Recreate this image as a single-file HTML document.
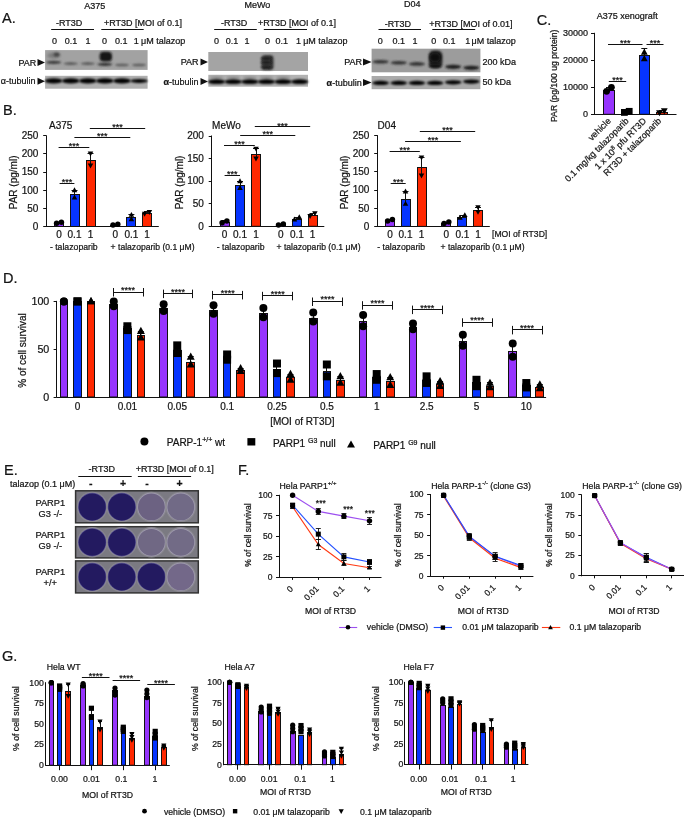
<!DOCTYPE html>
<html><head><meta charset="utf-8"><style>
html,body{margin:0;padding:0;background:#fff;}
svg{display:block;will-change:transform;}
text{font-family:"Liberation Sans",sans-serif;fill:#141414;stroke:#141414;stroke-width:0.22px;}
</style></head><body>
<svg width="685" height="817" viewBox="0 0 685 817">
<defs>
<filter id="b1" x="-50%" y="-100%" width="200%" height="300%"><feGaussianBlur stdDeviation="0.9"/></filter>
<filter id="b2" x="-50%" y="-50%" width="200%" height="200%"><feGaussianBlur stdDeviation="1.6"/></filter>
</defs>
<rect width="685" height="817" fill="#fff"/>
<text x="2" y="22.8" font-size="14.5">A.</text>
<text x="84.2" y="8.7" font-size="9">A375</text>
<text x="56" y="26" font-size="9">-RT3D</text>
<line x1="51.2" y1="29.5" x2="94" y2="29.5" stroke="#111" stroke-width="1"/>
<text x="104" y="26" font-size="9">+RT3D [MOI of 0.1]</text>
<line x1="101.3" y1="29.5" x2="143.7" y2="29.5" stroke="#111" stroke-width="1"/>
<text x="52" y="44" font-size="9">0</text>
<text x="64.8" y="44" font-size="9">0.1</text>
<text x="85.4" y="44" font-size="9">1</text>
<text x="102" y="44" font-size="9">0</text>
<text x="115" y="44" font-size="9">0.1</text>
<text x="133.8" y="44" font-size="9">1</text>
<text x="141" y="44" font-size="9">&#956;M talazop</text>
<text x="36.3" y="65.8" font-size="9" text-anchor="end">PAR</text>
<path d="M37.5 58.9L45 62.4L37.5 65.9Z" fill="#111"/>
<text x="35.5" y="84.4" font-size="9" text-anchor="end">&#945;-tubulin</text>
<path d="M37.5 77.7L45 81.2L37.5 84.7Z" fill="#111"/>
<rect x="45.1" y="50.1" width="102.5" height="19.8" fill="#a2a2a2"/>
<ellipse cx="53.64" cy="62.4" rx="7.5" ry="1.6" fill="#3a3a3a" filter="url(#b1)"/>
<ellipse cx="53.64" cy="55.5" rx="6.5" ry="3" fill="#7a7a7a" filter="url(#b2)"/>
<ellipse cx="56.64" cy="54.5" rx="3" ry="2" fill="#444" filter="url(#b1)"/>
<ellipse cx="70.72" cy="63.6" rx="7.2" ry="1.3" fill="#555" filter="url(#b1)"/>
<ellipse cx="87.81" cy="63.6" rx="7.2" ry="1.3" fill="#555" filter="url(#b1)"/>
<rect x="99.6" y="51.8" width="12.4" height="9.6" rx="4" fill="#151515" filter="url(#b1)"/>
<ellipse cx="104.89" cy="64.3" rx="7.5" ry="1.6" fill="#333" filter="url(#b1)"/>
<ellipse cx="121.97" cy="65" rx="7" ry="1.3" fill="#5a5a5a" filter="url(#b1)"/>
<ellipse cx="139.06" cy="65" rx="7" ry="1.3" fill="#5a5a5a" filter="url(#b1)"/>
<rect x="45.1" y="75.8" width="102.5" height="12.9" fill="#b0b0b0"/>
<ellipse cx="53.64" cy="80.9" rx="8.7" ry="2.7" fill="#050505" filter="url(#b1)"/>
<ellipse cx="70.72" cy="80.9" rx="8.7" ry="2.7" fill="#050505" filter="url(#b1)"/>
<ellipse cx="87.81" cy="80.9" rx="8.7" ry="2.7" fill="#050505" filter="url(#b1)"/>
<ellipse cx="104.89" cy="80.9" rx="8.7" ry="2.7" fill="#050505" filter="url(#b1)"/>
<ellipse cx="121.97" cy="80.9" rx="8.7" ry="2.7" fill="#050505" filter="url(#b1)"/>
<ellipse cx="139.06" cy="80.9" rx="8.7" ry="2.0" fill="#050505" filter="url(#b1)"/>
<text x="244.4" y="8.2" font-size="9">MeWo</text>
<text x="220.9" y="26" font-size="9">-RT3D</text>
<line x1="214.2" y1="29.5" x2="256.8" y2="29.5" stroke="#111" stroke-width="1"/>
<text x="258" y="26" font-size="9">+RT3D [MOI of 0.1]</text>
<line x1="263.8" y1="29.5" x2="307" y2="29.5" stroke="#111" stroke-width="1"/>
<text x="214" y="44" font-size="9">0</text>
<text x="225.8" y="44" font-size="9">0.1</text>
<text x="244.4" y="44" font-size="9">1</text>
<text x="265" y="44" font-size="9">0</text>
<text x="275.5" y="44" font-size="9">0.1</text>
<text x="296" y="44" font-size="9">1</text>
<text x="303.2" y="44" font-size="9">&#956;M talazop</text>
<text x="198.6" y="65.2" font-size="9" text-anchor="end">PAR</text>
<path d="M200.5 58.4L208 61.9L200.5 65.4Z" fill="#111"/>
<text x="198.6" y="84.6" font-size="9" text-anchor="end"><tspan font-weight="bold">&#945;</tspan>-tubulin</text>
<path d="M200.5 78L208 81.5L200.5 85Z" fill="#111"/>
<rect x="208.3" y="52" width="99.7" height="19" fill="#a4a4a4"/>
<rect x="261.6" y="55" width="12" height="15" rx="3.5" fill="#3a3a3a" filter="url(#b1)"/>
<ellipse cx="266.46" cy="58.5" rx="5.8" ry="1.5" fill="#1c1c1c" filter="url(#b1)"/>
<ellipse cx="266.46" cy="62.5" rx="5.8" ry="1.5" fill="#1c1c1c" filter="url(#b1)"/>
<ellipse cx="266.46" cy="67.3" rx="5.8" ry="1.5" fill="#1c1c1c" filter="url(#b1)"/>
<rect x="208.3" y="74.8" width="99.7" height="11.9" fill="#b2b2b2"/>
<ellipse cx="216.61" cy="77.4" rx="7" ry="1" fill="#808080" filter="url(#b1)"/>
<ellipse cx="216.61" cy="81.7" rx="8.6" ry="2.4" fill="#060606" filter="url(#b1)"/>
<ellipse cx="233.23" cy="77.4" rx="7" ry="1" fill="#808080" filter="url(#b1)"/>
<ellipse cx="233.23" cy="81.7" rx="8.6" ry="2.4" fill="#060606" filter="url(#b1)"/>
<ellipse cx="249.84" cy="77.4" rx="7" ry="1" fill="#808080" filter="url(#b1)"/>
<ellipse cx="249.84" cy="81.7" rx="8.6" ry="2.4" fill="#060606" filter="url(#b1)"/>
<ellipse cx="266.46" cy="77.4" rx="7" ry="1" fill="#808080" filter="url(#b1)"/>
<ellipse cx="266.46" cy="81.7" rx="8.6" ry="2.4" fill="#060606" filter="url(#b1)"/>
<ellipse cx="283.07" cy="77.4" rx="7" ry="1" fill="#808080" filter="url(#b1)"/>
<ellipse cx="283.07" cy="81.7" rx="8.6" ry="2.4" fill="#060606" filter="url(#b1)"/>
<ellipse cx="299.69" cy="81.7" rx="8.6" ry="2.4" fill="#060606" filter="url(#b1)"/>
<text x="404" y="7" font-size="9">D04</text>
<text x="384.7" y="27.3" font-size="9">-RT3D</text>
<line x1="378.5" y1="29.5" x2="421" y2="29.5" stroke="#111" stroke-width="1"/>
<text x="429.3" y="27.3" font-size="9">+RT3D [MOI of 0.01]</text>
<line x1="432.3" y1="29.5" x2="475.2" y2="29.5" stroke="#111" stroke-width="1"/>
<text x="377.7" y="44" font-size="9">0</text>
<text x="392.6" y="44" font-size="9">0.1</text>
<text x="412.5" y="44" font-size="9">1</text>
<text x="431.3" y="44" font-size="9">0</text>
<text x="443" y="44" font-size="9">0.1</text>
<text x="465.3" y="44" font-size="9">1</text>
<text x="471.5" y="44" font-size="9">&#956;M talazop</text>
<text x="362" y="65.2" font-size="9" text-anchor="end">PAR</text>
<path d="M363 58.4L371.6 61.9L363 65.4Z" fill="#111"/>
<text x="361.7" y="85.6" font-size="9" text-anchor="end"><tspan font-weight="bold">&#945;</tspan>-tubulin</text>
<path d="M363 79L371.6 82.5L363 86Z" fill="#111"/>
<rect x="371.6" y="48.7" width="108.8" height="23.6" fill="#9c9c9c"/>
<ellipse cx="380.67" cy="61.8" rx="8" ry="1.8" fill="#303030" filter="url(#b1)"/>
<ellipse cx="398.8" cy="62.8" rx="8" ry="1.8" fill="#303030" filter="url(#b1)"/>
<ellipse cx="416.93" cy="63.9" rx="8" ry="1.8" fill="#303030" filter="url(#b1)"/>
<rect x="428.8" y="50.6" width="13.6" height="17.4" rx="5" fill="#242424" filter="url(#b1)"/>
<ellipse cx="435.07" cy="57.5" rx="5.5" ry="4.5" fill="#0e0e0e" filter="url(#b2)"/>
<ellipse cx="435.07" cy="66" rx="6.5" ry="1.8" fill="#161616" filter="url(#b1)"/>
<ellipse cx="453.2" cy="66.8" rx="8" ry="2.1" fill="#1e1e1e" filter="url(#b1)"/>
<ellipse cx="471.33" cy="67.8" rx="8" ry="2.1" fill="#1e1e1e" filter="url(#b1)"/>
<rect x="371.6" y="76" width="108.8" height="13.2" fill="#aaaaaa"/>
<ellipse cx="380.67" cy="82.9" rx="8.4" ry="2.1" fill="#050505" filter="url(#b1)"/>
<ellipse cx="398.8" cy="82.9" rx="8.4" ry="2.1" fill="#050505" filter="url(#b1)"/>
<ellipse cx="416.93" cy="82.9" rx="8.4" ry="2.1" fill="#050505" filter="url(#b1)"/>
<ellipse cx="435.07" cy="82.9" rx="8.4" ry="2.1" fill="#050505" filter="url(#b1)"/>
<ellipse cx="453.2" cy="82.3" rx="8.4" ry="2.1" fill="#050505" filter="url(#b1)"/>
<ellipse cx="471.33" cy="81.6" rx="8.4" ry="2.1" fill="#050505" filter="url(#b1)"/>
<text x="482.6" y="65.2" font-size="9">200 kDa</text>
<text x="482.6" y="84.9" font-size="9">50 kDa</text>
<text x="3" y="115" font-size="14.5">B.</text>
<text x="49" y="128.8" font-size="10">A375</text>
<line x1="46.5" y1="135.3" x2="46.5" y2="227" stroke="#111" stroke-width="1"/>
<line x1="43.2" y1="226.5" x2="46.2" y2="226.5" stroke="#111" stroke-width="1"/>
<text x="38.4" y="229.8" font-size="10" text-anchor="end">0</text>
<line x1="43.2" y1="208.5" x2="46.2" y2="208.5" stroke="#111" stroke-width="1"/>
<text x="38.4" y="211.66" font-size="10" text-anchor="end">50</text>
<line x1="43.2" y1="190.5" x2="46.2" y2="190.5" stroke="#111" stroke-width="1"/>
<text x="38.4" y="193.52" font-size="10" text-anchor="end">100</text>
<line x1="43.2" y1="172.5" x2="46.2" y2="172.5" stroke="#111" stroke-width="1"/>
<text x="38.4" y="175.38" font-size="10" text-anchor="end">150</text>
<line x1="43.2" y1="153.5" x2="46.2" y2="153.5" stroke="#111" stroke-width="1"/>
<text x="38.4" y="157.24" font-size="10" text-anchor="end">200</text>
<line x1="43.2" y1="135.5" x2="46.2" y2="135.5" stroke="#111" stroke-width="1"/>
<text x="38.4" y="139.1" font-size="10" text-anchor="end">250</text>
<line x1="46.2" y1="226.5" x2="158.8" y2="226.5" stroke="#111" stroke-width="1"/>
<rect x="54.5" y="223.5" width="9" height="3" fill="#9634fd" stroke="#111" stroke-width="1"/>
<rect x="70.5" y="194.5" width="9" height="32" fill="#0634ff" stroke="#111" stroke-width="1"/>
<rect x="86.5" y="160.5" width="9" height="66" fill="#ff2800" stroke="#111" stroke-width="1"/>
<rect x="110.5" y="225.5" width="9" height="1" fill="#9634fd" stroke="#111" stroke-width="1"/>
<rect x="126.5" y="217.5" width="9" height="9" fill="#0634ff" stroke="#111" stroke-width="1"/>
<rect x="142.5" y="213.5" width="9" height="13" fill="#ff2800" stroke="#111" stroke-width="1"/>
<line x1="59.5" y1="222.15" x2="59.5" y2="223.23" stroke="#111" stroke-width="1"/>
<line x1="56" y1="222.5" x2="62" y2="222.5" stroke="#111" stroke-width="1"/>
<circle cx="56.6" cy="223.23" r="2.75" fill="#000"/>
<circle cx="61.4" cy="222.15" r="2.75" fill="#000"/>
<line x1="74.5" y1="190.22" x2="74.5" y2="197.48" stroke="#111" stroke-width="1"/>
<line x1="71.5" y1="190.5" x2="77.5" y2="190.5" stroke="#111" stroke-width="1"/>
<path d="M74.5 194.51L77.25 199.46L71.75 199.46Z" fill="#000"/>
<path d="M74.5 187.25L77.25 192.2L71.75 192.2Z" fill="#000"/>
<line x1="90.5" y1="153.58" x2="90.5" y2="165.55" stroke="#111" stroke-width="1"/>
<line x1="87.5" y1="153.5" x2="93.5" y2="153.5" stroke="#111" stroke-width="1"/>
<path d="M90.5 168.52L93.25 163.57L87.75 163.57Z" fill="#000"/>
<path d="M90.5 156.55L93.25 151.6L87.75 151.6Z" fill="#000"/>
<line x1="115.5" y1="224.32" x2="115.5" y2="225.05" stroke="#111" stroke-width="1"/>
<line x1="112.4" y1="224.5" x2="118.4" y2="224.5" stroke="#111" stroke-width="1"/>
<circle cx="113" cy="225.05" r="2.75" fill="#000"/>
<circle cx="117.8" cy="224.32" r="2.75" fill="#000"/>
<line x1="131.5" y1="214.89" x2="131.5" y2="219.24" stroke="#111" stroke-width="1"/>
<line x1="128.4" y1="214.5" x2="134.4" y2="214.5" stroke="#111" stroke-width="1"/>
<path d="M131.4 216.27L134.15 221.22L128.65 221.22Z" fill="#000"/>
<path d="M131.4 211.92L134.15 216.87L128.65 216.87Z" fill="#000"/>
<line x1="147.5" y1="211.99" x2="147.5" y2="213.8" stroke="#111" stroke-width="1"/>
<line x1="144" y1="211.5" x2="150" y2="211.5" stroke="#111" stroke-width="1"/>
<path d="M144.6 216.77L147.35 211.82L141.85 211.82Z" fill="#000"/>
<path d="M149.4 214.96L152.15 210.01L146.65 210.01Z" fill="#000"/>
<text x="59" y="237.5" font-size="10" text-anchor="middle">0</text>
<text x="74.5" y="237.5" font-size="10" text-anchor="middle">0.1</text>
<text x="90.5" y="237.5" font-size="10" text-anchor="middle">1</text>
<text x="115.4" y="237.5" font-size="10" text-anchor="middle">0</text>
<text x="131.4" y="237.5" font-size="10" text-anchor="middle">0.1</text>
<text x="147" y="237.5" font-size="10" text-anchor="middle">1</text>
<text x="73.8" y="249.6" font-size="8.7" text-anchor="middle">- talazoparib</text>
<text x="110.6" y="249.6" font-size="8.6">+ talazoparib (0.1 &#956;M)</text>
<line x1="58.6" y1="147.5" x2="89.3" y2="147.5" stroke="#111" stroke-width="1"/>
<text x="73.95" y="148.7" font-size="9" text-anchor="middle">***</text>
<line x1="74.4" y1="137.5" x2="130.3" y2="137.5" stroke="#111" stroke-width="1"/>
<text x="102.35" y="139.3" font-size="9" text-anchor="middle">***</text>
<line x1="89.8" y1="128.5" x2="145.2" y2="128.5" stroke="#111" stroke-width="1"/>
<text x="117.5" y="130.1" font-size="9" text-anchor="middle">***</text>
<line x1="59.6" y1="183.5" x2="74.4" y2="183.5" stroke="#111" stroke-width="1"/>
<text x="67" y="185.2" font-size="9" text-anchor="middle">***</text>
<text x="17.3" y="182.4" font-size="10" text-anchor="middle" transform="rotate(-90 17.3 182.4)">PAR (pg/ml)</text>
<text x="212.1" y="128.8" font-size="10">MeWo</text>
<line x1="211.5" y1="135.5" x2="211.5" y2="226.8" stroke="#111" stroke-width="1"/>
<line x1="208.7" y1="226.5" x2="211.7" y2="226.5" stroke="#111" stroke-width="1"/>
<text x="203.9" y="229.6" font-size="10" text-anchor="end">0</text>
<line x1="208.7" y1="203.5" x2="211.7" y2="203.5" stroke="#111" stroke-width="1"/>
<text x="203.9" y="207.03" font-size="10" text-anchor="end">50</text>
<line x1="208.7" y1="181.5" x2="211.7" y2="181.5" stroke="#111" stroke-width="1"/>
<text x="203.9" y="184.45" font-size="10" text-anchor="end">100</text>
<line x1="208.7" y1="158.5" x2="211.7" y2="158.5" stroke="#111" stroke-width="1"/>
<text x="203.9" y="161.88" font-size="10" text-anchor="end">150</text>
<line x1="208.7" y1="136.5" x2="211.7" y2="136.5" stroke="#111" stroke-width="1"/>
<text x="203.9" y="139.3" font-size="10" text-anchor="end">200</text>
<line x1="211.7" y1="226.5" x2="324.3" y2="226.5" stroke="#111" stroke-width="1"/>
<rect x="220.5" y="222.5" width="9" height="3.8" fill="#9634fd" stroke="#111" stroke-width="1"/>
<rect x="235.5" y="185.5" width="9" height="40.8" fill="#0634ff" stroke="#111" stroke-width="1"/>
<rect x="251.5" y="154.5" width="9" height="71.8" fill="#ff2800" stroke="#111" stroke-width="1"/>
<rect x="276.5" y="224.5" width="9" height="1.8" fill="#9634fd" stroke="#111" stroke-width="1"/>
<rect x="292.5" y="219.5" width="9" height="6.8" fill="#0634ff" stroke="#111" stroke-width="1"/>
<rect x="308.5" y="215.5" width="9" height="10.8" fill="#ff2800" stroke="#111" stroke-width="1"/>
<line x1="224.5" y1="220.88" x2="224.5" y2="222.69" stroke="#111" stroke-width="1"/>
<line x1="221.5" y1="220.5" x2="227.5" y2="220.5" stroke="#111" stroke-width="1"/>
<circle cx="222.1" cy="222.69" r="2.75" fill="#000"/>
<circle cx="226.9" cy="220.88" r="2.75" fill="#000"/>
<line x1="240.5" y1="181.15" x2="240.5" y2="187.92" stroke="#111" stroke-width="1"/>
<line x1="237" y1="181.5" x2="243" y2="181.5" stroke="#111" stroke-width="1"/>
<path d="M240 184.95L242.75 189.9L237.25 189.9Z" fill="#000"/>
<path d="M240 178.18L242.75 183.13L237.25 183.13Z" fill="#000"/>
<line x1="256.5" y1="148.64" x2="256.5" y2="158.57" stroke="#111" stroke-width="1"/>
<line x1="253" y1="148.5" x2="259" y2="148.5" stroke="#111" stroke-width="1"/>
<path d="M256 161.54L258.75 156.59L253.25 156.59Z" fill="#000"/>
<path d="M256 151.61L258.75 146.66L253.25 146.66Z" fill="#000"/>
<line x1="280.5" y1="224.04" x2="280.5" y2="224.95" stroke="#111" stroke-width="1"/>
<line x1="277.9" y1="224.5" x2="283.9" y2="224.5" stroke="#111" stroke-width="1"/>
<circle cx="278.5" cy="224.95" r="2.75" fill="#000"/>
<circle cx="283.3" cy="224.04" r="2.75" fill="#000"/>
<line x1="296.5" y1="217.27" x2="296.5" y2="219.53" stroke="#111" stroke-width="1"/>
<line x1="293.9" y1="217.5" x2="299.9" y2="217.5" stroke="#111" stroke-width="1"/>
<path d="M294.5 216.56L297.25 221.51L291.75 221.51Z" fill="#000"/>
<path d="M299.3 214.3L302.05 219.25L296.55 219.25Z" fill="#000"/>
<line x1="312.5" y1="213.21" x2="312.5" y2="215.92" stroke="#111" stroke-width="1"/>
<line x1="309.5" y1="213.5" x2="315.5" y2="213.5" stroke="#111" stroke-width="1"/>
<path d="M310.1 218.89L312.85 213.94L307.35 213.94Z" fill="#000"/>
<path d="M314.9 216.18L317.65 211.23L312.15 211.23Z" fill="#000"/>
<text x="224.5" y="237.5" font-size="10" text-anchor="middle">0</text>
<text x="240" y="237.5" font-size="10" text-anchor="middle">0.1</text>
<text x="256" y="237.5" font-size="10" text-anchor="middle">1</text>
<text x="280.9" y="237.5" font-size="10" text-anchor="middle">0</text>
<text x="296.9" y="237.5" font-size="10" text-anchor="middle">0.1</text>
<text x="312.5" y="237.5" font-size="10" text-anchor="middle">1</text>
<text x="240.6" y="249.6" font-size="8.7" text-anchor="middle">- talazoparib</text>
<text x="276.49" y="249.6" font-size="8.6">+ talazoparib (0.1 &#956;M)</text>
<line x1="224" y1="145.5" x2="254.8" y2="145.5" stroke="#111" stroke-width="1"/>
<text x="239.4" y="146.8" font-size="9" text-anchor="middle">***</text>
<line x1="240.2" y1="135.5" x2="295.3" y2="135.5" stroke="#111" stroke-width="1"/>
<text x="267.75" y="137.2" font-size="9" text-anchor="middle">***</text>
<line x1="254.8" y1="126.5" x2="310.2" y2="126.5" stroke="#111" stroke-width="1"/>
<text x="282.5" y="128.5" font-size="9" text-anchor="middle">***</text>
<line x1="224.6" y1="175.5" x2="240" y2="175.5" stroke="#111" stroke-width="1"/>
<text x="232.3" y="176.6" font-size="9" text-anchor="middle">***</text>
<text x="182.8" y="182.4" font-size="10" text-anchor="middle" transform="rotate(-90 182.8 182.4)">PAR (pg/ml)</text>
<text x="377.6" y="128.8" font-size="10">D04</text>
<line x1="377.5" y1="135.1" x2="377.5" y2="226.9" stroke="#111" stroke-width="1"/>
<line x1="374.2" y1="226.5" x2="377.2" y2="226.5" stroke="#111" stroke-width="1"/>
<text x="369.4" y="229.7" font-size="10" text-anchor="end">0</text>
<line x1="374.2" y1="208.5" x2="377.2" y2="208.5" stroke="#111" stroke-width="1"/>
<text x="369.4" y="211.54" font-size="10" text-anchor="end">50</text>
<line x1="374.2" y1="190.5" x2="377.2" y2="190.5" stroke="#111" stroke-width="1"/>
<text x="369.4" y="193.38" font-size="10" text-anchor="end">100</text>
<line x1="374.2" y1="171.5" x2="377.2" y2="171.5" stroke="#111" stroke-width="1"/>
<text x="369.4" y="175.22" font-size="10" text-anchor="end">150</text>
<line x1="374.2" y1="153.5" x2="377.2" y2="153.5" stroke="#111" stroke-width="1"/>
<text x="369.4" y="157.06" font-size="10" text-anchor="end">200</text>
<line x1="374.2" y1="135.5" x2="377.2" y2="135.5" stroke="#111" stroke-width="1"/>
<text x="369.4" y="138.9" font-size="10" text-anchor="end">250</text>
<line x1="377.2" y1="226.5" x2="489.8" y2="226.5" stroke="#111" stroke-width="1"/>
<rect x="385.5" y="220.5" width="9" height="5.9" fill="#9634fd" stroke="#111" stroke-width="1"/>
<rect x="401.5" y="199.5" width="9" height="26.9" fill="#0634ff" stroke="#111" stroke-width="1"/>
<rect x="417.5" y="167.5" width="9" height="58.9" fill="#ff2800" stroke="#111" stroke-width="1"/>
<rect x="441.5" y="223.5" width="9" height="2.9" fill="#9634fd" stroke="#111" stroke-width="1"/>
<rect x="457.5" y="217.5" width="9" height="8.9" fill="#0634ff" stroke="#111" stroke-width="1"/>
<rect x="473.5" y="210.5" width="9" height="15.9" fill="#ff2800" stroke="#111" stroke-width="1"/>
<line x1="390.5" y1="219.5" x2="390.5" y2="220.95" stroke="#111" stroke-width="1"/>
<line x1="387" y1="219.5" x2="393" y2="219.5" stroke="#111" stroke-width="1"/>
<circle cx="387.6" cy="220.95" r="2.75" fill="#000"/>
<circle cx="392.4" cy="219.5" r="2.75" fill="#000"/>
<line x1="405.5" y1="191.53" x2="405.5" y2="203.88" stroke="#111" stroke-width="1"/>
<line x1="402.5" y1="191.5" x2="408.5" y2="191.5" stroke="#111" stroke-width="1"/>
<path d="M405.5 200.91L408.25 205.86L402.75 205.86Z" fill="#000"/>
<path d="M405.5 188.56L408.25 193.51L402.75 193.51Z" fill="#000"/>
<line x1="421.5" y1="157.39" x2="421.5" y2="175.55" stroke="#111" stroke-width="1"/>
<line x1="418.5" y1="157.5" x2="424.5" y2="157.5" stroke="#111" stroke-width="1"/>
<path d="M421.5 178.52L424.25 173.57L418.75 173.57Z" fill="#000"/>
<path d="M421.5 160.36L424.25 155.41L418.75 155.41Z" fill="#000"/>
<line x1="446.5" y1="222.04" x2="446.5" y2="223.49" stroke="#111" stroke-width="1"/>
<line x1="443.4" y1="222.5" x2="449.4" y2="222.5" stroke="#111" stroke-width="1"/>
<circle cx="444" cy="223.49" r="2.75" fill="#000"/>
<circle cx="448.8" cy="222.04" r="2.75" fill="#000"/>
<line x1="462.5" y1="215.14" x2="462.5" y2="217.68" stroke="#111" stroke-width="1"/>
<line x1="459.4" y1="215.5" x2="465.4" y2="215.5" stroke="#111" stroke-width="1"/>
<path d="M460 214.71L462.75 219.66L457.25 219.66Z" fill="#000"/>
<path d="M464.8 212.17L467.55 217.12L462.05 217.12Z" fill="#000"/>
<line x1="478.5" y1="207.15" x2="478.5" y2="211.87" stroke="#111" stroke-width="1"/>
<line x1="475" y1="207.5" x2="481" y2="207.5" stroke="#111" stroke-width="1"/>
<path d="M478 214.84L480.75 209.89L475.25 209.89Z" fill="#000"/>
<path d="M478 210.12L480.75 205.17L475.25 205.17Z" fill="#000"/>
<text x="390" y="237.5" font-size="10" text-anchor="middle">0</text>
<text x="405.5" y="237.5" font-size="10" text-anchor="middle">0.1</text>
<text x="421.5" y="237.5" font-size="10" text-anchor="middle">1</text>
<text x="446.4" y="237.5" font-size="10" text-anchor="middle">0</text>
<text x="462.4" y="237.5" font-size="10" text-anchor="middle">0.1</text>
<text x="478" y="237.5" font-size="10" text-anchor="middle">1</text>
<text x="401.2" y="249.6" font-size="8.7" text-anchor="middle">- talazoparib</text>
<text x="440.52" y="249.6" font-size="8.6">+ talazoparib (0.1 &#956;M)</text>
<line x1="389.6" y1="151.5" x2="419.8" y2="151.5" stroke="#111" stroke-width="1"/>
<text x="404.7" y="152.8" font-size="9" text-anchor="middle">***</text>
<line x1="405.1" y1="141.5" x2="460.9" y2="141.5" stroke="#111" stroke-width="1"/>
<text x="433" y="142.8" font-size="9" text-anchor="middle">***</text>
<line x1="419.8" y1="131.5" x2="475.2" y2="131.5" stroke="#111" stroke-width="1"/>
<text x="447.5" y="133.4" font-size="9" text-anchor="middle">***</text>
<line x1="390.7" y1="183.5" x2="405.7" y2="183.5" stroke="#111" stroke-width="1"/>
<text x="398.2" y="185" font-size="9" text-anchor="middle">***</text>
<text x="348.3" y="182.4" font-size="10" text-anchor="middle" transform="rotate(-90 348.3 182.4)">PAR (pg/ml)</text>
<text x="492" y="236.8" font-size="8.6">[MOI of RT3D]</text>
<text x="536.8" y="25" font-size="14.5">C.</text>
<text x="596.8" y="19.2" font-size="9">A375 xenograft</text>
<line x1="594.5" y1="32.8" x2="594.5" y2="114.8" stroke="#111" stroke-width="1"/>
<line x1="591" y1="114.5" x2="594" y2="114.5" stroke="#111" stroke-width="1"/>
<text x="588" y="117.27" font-size="9" text-anchor="end">0</text>
<line x1="591" y1="87.5" x2="594" y2="87.5" stroke="#111" stroke-width="1"/>
<text x="588" y="90.27" font-size="9" text-anchor="end">10000</text>
<line x1="591" y1="60.5" x2="594" y2="60.5" stroke="#111" stroke-width="1"/>
<text x="588" y="63.27" font-size="9" text-anchor="end">20000</text>
<line x1="591" y1="33.5" x2="594" y2="33.5" stroke="#111" stroke-width="1"/>
<text x="588" y="36.27" font-size="9" text-anchor="end">30000</text>
<line x1="594" y1="114.5" x2="676.5" y2="114.5" stroke="#111" stroke-width="1"/>
<rect x="603.5" y="90.5" width="11" height="23.8" fill="#9634fd" stroke="#111" stroke-width="1"/>
<rect x="621.5" y="112.5" width="10" height="1.8" fill="#111" stroke="#111" stroke-width="1"/>
<rect x="639.5" y="55.5" width="10" height="58.8" fill="#0634ff" stroke="#111" stroke-width="1"/>
<rect x="656.5" y="112.5" width="11" height="1.8" fill="#ff2800" stroke="#111" stroke-width="1"/>
<line x1="609.5" y1="87.3" x2="609.5" y2="91.35" stroke="#111" stroke-width="1"/>
<line x1="606" y1="87.5" x2="612" y2="87.5" stroke="#111" stroke-width="1"/>
<circle cx="606.6" cy="91.35" r="3.4" fill="#000"/>
<circle cx="611.4" cy="87.3" r="3.4" fill="#000"/>
<line x1="626.5" y1="111.33" x2="626.5" y2="112.41" stroke="#111" stroke-width="1"/>
<line x1="623.8" y1="111.5" x2="629.8" y2="111.5" stroke="#111" stroke-width="1"/>
<rect x="621" y="109.01" width="6.8" height="6.8" fill="#000"/>
<rect x="625.8" y="107.93" width="6.8" height="6.8" fill="#000"/>
<line x1="644.5" y1="48.96" x2="644.5" y2="60.3" stroke="#111" stroke-width="1"/>
<line x1="641.3" y1="48.5" x2="647.3" y2="48.5" stroke="#111" stroke-width="1"/>
<path d="M644.3 48.53L647.7 54.65L640.9 54.65Z" fill="#000"/>
<path d="M644.3 55.01L647.7 61.13L640.9 61.13Z" fill="#000"/>
<line x1="661.5" y1="110.79" x2="661.5" y2="112.68" stroke="#111" stroke-width="1"/>
<line x1="658.9" y1="110.5" x2="664.9" y2="110.5" stroke="#111" stroke-width="1"/>
<path d="M659.5 116.35L662.9 110.23L656.1 110.23Z" fill="#000"/>
<path d="M664.3 114.46L667.7 108.34L660.9 108.34Z" fill="#000"/>
<line x1="608.8" y1="81.5" x2="626.2" y2="81.5" stroke="#111" stroke-width="1"/>
<text x="617.5" y="82.8" font-size="9" text-anchor="middle">***</text>
<line x1="608" y1="44.5" x2="642.5" y2="44.5" stroke="#111" stroke-width="1"/>
<text x="625.25" y="45.7" font-size="9" text-anchor="middle">***</text>
<line x1="646.5" y1="44.5" x2="663.5" y2="44.5" stroke="#111" stroke-width="1"/>
<text x="655" y="45.7" font-size="9" text-anchor="middle">***</text>
<text x="611.5" y="121.5" font-size="9" text-anchor="end" transform="rotate(-45 611.5 121.5)">vehicle</text>
<text x="629.3" y="121.5" font-size="9" text-anchor="end" transform="rotate(-45 629.3 121.5)">0.1 mg/kg talazoparib</text>
<text x="646.8" y="121.5" font-size="9" text-anchor="end" transform="rotate(-45 646.8 121.5)">1 x 10<tspan font-size="6" dy="-3.5">8</tspan><tspan dy="3.5"> pfu RT3D</tspan></text>
<text x="661.9" y="121.5" font-size="9" text-anchor="end" transform="rotate(-45 661.9 121.5)">RT3D + talazoparib</text>
<text x="557" y="75.8" font-size="8.65" text-anchor="middle" transform="rotate(-90 557 75.8)">PAR (pg/100 ug protein)</text>
<text x="3" y="283" font-size="14.5">D.</text>
<line x1="56.5" y1="300.9" x2="56.5" y2="397.5" stroke="#111" stroke-width="1"/>
<line x1="53.6" y1="397.5" x2="56.6" y2="397.5" stroke="#111" stroke-width="1"/>
<text x="49.3" y="400.53" font-size="10.7" text-anchor="end">0</text>
<line x1="53.6" y1="349.5" x2="56.6" y2="349.5" stroke="#111" stroke-width="1"/>
<text x="49.3" y="352.73" font-size="10.7" text-anchor="end">50</text>
<line x1="53.6" y1="301.5" x2="56.6" y2="301.5" stroke="#111" stroke-width="1"/>
<text x="49.3" y="304.93" font-size="10.7" text-anchor="end">100</text>
<line x1="56.6" y1="397.5" x2="546.1" y2="397.5" stroke="#111" stroke-width="1"/>
<text x="77.5" y="410" font-size="10" text-anchor="middle">0</text>
<text x="127.37" y="410" font-size="10" text-anchor="middle">0.01</text>
<line x1="113.17" y1="292.5" x2="143.07" y2="292.5" stroke="#111" stroke-width="1"/>
<line x1="113.5" y1="288" x2="113.5" y2="296.5" stroke="#111" stroke-width="1"/>
<line x1="143.5" y1="288" x2="143.5" y2="296.5" stroke="#111" stroke-width="1"/>
<text x="128.12" y="292.9" font-size="9" text-anchor="middle">****</text>
<text x="177.24" y="410" font-size="10" text-anchor="middle">0.05</text>
<line x1="163.04" y1="293.5" x2="192.94" y2="293.5" stroke="#111" stroke-width="1"/>
<line x1="163.5" y1="289.6" x2="163.5" y2="298.1" stroke="#111" stroke-width="1"/>
<line x1="192.5" y1="289.6" x2="192.5" y2="298.1" stroke="#111" stroke-width="1"/>
<text x="177.99" y="294.5" font-size="9" text-anchor="middle">****</text>
<text x="227.11" y="410" font-size="10" text-anchor="middle">0.1</text>
<line x1="212.91" y1="294.5" x2="242.81" y2="294.5" stroke="#111" stroke-width="1"/>
<line x1="212.5" y1="290.9" x2="212.5" y2="299.4" stroke="#111" stroke-width="1"/>
<line x1="242.5" y1="290.9" x2="242.5" y2="299.4" stroke="#111" stroke-width="1"/>
<text x="227.86" y="295.8" font-size="9" text-anchor="middle">****</text>
<text x="276.98" y="410" font-size="10" text-anchor="middle">0.25</text>
<line x1="262.78" y1="295.5" x2="292.68" y2="295.5" stroke="#111" stroke-width="1"/>
<line x1="262.5" y1="291.8" x2="262.5" y2="300.3" stroke="#111" stroke-width="1"/>
<line x1="292.5" y1="291.8" x2="292.5" y2="300.3" stroke="#111" stroke-width="1"/>
<text x="277.73" y="296.7" font-size="9" text-anchor="middle">****</text>
<text x="326.85" y="410" font-size="10" text-anchor="middle">0.5</text>
<line x1="312.65" y1="301.5" x2="342.55" y2="301.5" stroke="#111" stroke-width="1"/>
<line x1="312.5" y1="297.5" x2="312.5" y2="306" stroke="#111" stroke-width="1"/>
<line x1="342.5" y1="297.5" x2="342.5" y2="306" stroke="#111" stroke-width="1"/>
<text x="327.6" y="302.4" font-size="9" text-anchor="middle">****</text>
<text x="376.72" y="410" font-size="10" text-anchor="middle">1</text>
<line x1="362.52" y1="305.5" x2="392.42" y2="305.5" stroke="#111" stroke-width="1"/>
<line x1="362.5" y1="301.2" x2="362.5" y2="309.7" stroke="#111" stroke-width="1"/>
<line x1="392.5" y1="301.2" x2="392.5" y2="309.7" stroke="#111" stroke-width="1"/>
<text x="377.47" y="306.1" font-size="9" text-anchor="middle">****</text>
<text x="426.59" y="410" font-size="10" text-anchor="middle">2.5</text>
<line x1="412.39" y1="309.5" x2="442.29" y2="309.5" stroke="#111" stroke-width="1"/>
<line x1="412.5" y1="305.6" x2="412.5" y2="314.1" stroke="#111" stroke-width="1"/>
<line x1="442.5" y1="305.6" x2="442.5" y2="314.1" stroke="#111" stroke-width="1"/>
<text x="427.34" y="310.5" font-size="9" text-anchor="middle">****</text>
<text x="476.46" y="410" font-size="10" text-anchor="middle">5</text>
<line x1="462.26" y1="322.5" x2="492.16" y2="322.5" stroke="#111" stroke-width="1"/>
<line x1="462.5" y1="318.3" x2="462.5" y2="326.8" stroke="#111" stroke-width="1"/>
<line x1="492.5" y1="318.3" x2="492.5" y2="326.8" stroke="#111" stroke-width="1"/>
<text x="477.21" y="323.2" font-size="9" text-anchor="middle">****</text>
<text x="526.33" y="410" font-size="10" text-anchor="middle">10</text>
<line x1="512.13" y1="329.5" x2="542.03" y2="329.5" stroke="#111" stroke-width="1"/>
<line x1="512.5" y1="325.9" x2="512.5" y2="334.4" stroke="#111" stroke-width="1"/>
<line x1="542.5" y1="325.9" x2="542.5" y2="334.4" stroke="#111" stroke-width="1"/>
<text x="527.08" y="330.8" font-size="9" text-anchor="middle">****</text>
<rect x="60.5" y="301.5" width="7" height="95.5" fill="#9634fd" stroke="#111" stroke-width="1"/>
<rect x="73.5" y="301.5" width="8" height="95.5" fill="#0634ff" stroke="#111" stroke-width="1"/>
<rect x="87.5" y="301.5" width="7" height="95.5" fill="#ff2800" stroke="#111" stroke-width="1"/>
<rect x="109.5" y="304.5" width="8" height="92.5" fill="#9634fd" stroke="#111" stroke-width="1"/>
<rect x="123.5" y="328.5" width="8" height="68.5" fill="#0634ff" stroke="#111" stroke-width="1"/>
<rect x="137.5" y="335.5" width="7" height="61.5" fill="#ff2800" stroke="#111" stroke-width="1"/>
<rect x="159.5" y="308.5" width="8" height="88.5" fill="#9634fd" stroke="#111" stroke-width="1"/>
<rect x="173.5" y="350.5" width="8" height="46.5" fill="#0634ff" stroke="#111" stroke-width="1"/>
<rect x="186.5" y="362.5" width="8" height="34.5" fill="#ff2800" stroke="#111" stroke-width="1"/>
<rect x="209.5" y="310.5" width="8" height="86.5" fill="#9634fd" stroke="#111" stroke-width="1"/>
<rect x="223.5" y="357.5" width="7" height="39.5" fill="#0634ff" stroke="#111" stroke-width="1"/>
<rect x="236.5" y="370.5" width="8" height="26.5" fill="#ff2800" stroke="#111" stroke-width="1"/>
<rect x="259.5" y="313.5" width="8" height="83.5" fill="#9634fd" stroke="#111" stroke-width="1"/>
<rect x="273.5" y="369.5" width="7" height="27.5" fill="#0634ff" stroke="#111" stroke-width="1"/>
<rect x="286.5" y="377.5" width="8" height="19.5" fill="#ff2800" stroke="#111" stroke-width="1"/>
<rect x="309.5" y="318.5" width="8" height="78.5" fill="#9634fd" stroke="#111" stroke-width="1"/>
<rect x="323.5" y="371.5" width="7" height="25.5" fill="#0634ff" stroke="#111" stroke-width="1"/>
<rect x="336.5" y="380.5" width="8" height="16.5" fill="#ff2800" stroke="#111" stroke-width="1"/>
<rect x="359.5" y="321.5" width="7" height="75.5" fill="#9634fd" stroke="#111" stroke-width="1"/>
<rect x="372.5" y="377.5" width="8" height="19.5" fill="#0634ff" stroke="#111" stroke-width="1"/>
<rect x="386.5" y="381.5" width="8" height="15.5" fill="#ff2800" stroke="#111" stroke-width="1"/>
<rect x="409.5" y="327.5" width="7" height="69.5" fill="#9634fd" stroke="#111" stroke-width="1"/>
<rect x="422.5" y="380.5" width="8" height="16.5" fill="#0634ff" stroke="#111" stroke-width="1"/>
<rect x="436.5" y="384.5" width="7" height="12.5" fill="#ff2800" stroke="#111" stroke-width="1"/>
<rect x="459.5" y="341.5" width="7" height="55.5" fill="#9634fd" stroke="#111" stroke-width="1"/>
<rect x="472.5" y="382.5" width="8" height="14.5" fill="#0634ff" stroke="#111" stroke-width="1"/>
<rect x="486.5" y="386.5" width="7" height="10.5" fill="#ff2800" stroke="#111" stroke-width="1"/>
<rect x="508.5" y="351.5" width="8" height="45.5" fill="#9634fd" stroke="#111" stroke-width="1"/>
<rect x="522.5" y="385.5" width="8" height="11.5" fill="#0634ff" stroke="#111" stroke-width="1"/>
<rect x="535.5" y="387.5" width="8" height="9.5" fill="#ff2800" stroke="#111" stroke-width="1"/>
<circle cx="63.9" cy="301.4" r="4" fill="#000"/>
<circle cx="63.9" cy="301.4" r="4" fill="#000"/>
<rect x="73.5" y="297.4" width="8" height="8" fill="#000"/>
<rect x="73.5" y="297.4" width="8" height="8" fill="#000"/>
<path d="M91 297.08L95 304.28L87 304.28Z" fill="#000"/>
<path d="M91 297.08L95 304.28L87 304.28Z" fill="#000"/>
<line x1="113.5" y1="301.4" x2="113.5" y2="306.18" stroke="#111" stroke-width="1"/>
<line x1="110.77" y1="301.5" x2="116.77" y2="301.5" stroke="#111" stroke-width="1"/>
<circle cx="113.77" cy="301.4" r="4" fill="#000"/>
<circle cx="113.77" cy="306.18" r="4" fill="#000"/>
<line x1="127.5" y1="326.26" x2="127.5" y2="330.08" stroke="#111" stroke-width="1"/>
<line x1="124.37" y1="326.5" x2="130.37" y2="326.5" stroke="#111" stroke-width="1"/>
<rect x="123.37" y="322.26" width="8" height="8" fill="#000"/>
<rect x="123.37" y="326.08" width="8" height="8" fill="#000"/>
<line x1="140.5" y1="331.04" x2="140.5" y2="337.73" stroke="#111" stroke-width="1"/>
<line x1="137.87" y1="331.5" x2="143.87" y2="331.5" stroke="#111" stroke-width="1"/>
<path d="M140.87 326.72L144.87 333.92L136.87 333.92Z" fill="#000"/>
<path d="M140.87 333.41L144.87 340.61L136.87 340.61Z" fill="#000"/>
<line x1="163.5" y1="304.27" x2="163.5" y2="310.96" stroke="#111" stroke-width="1"/>
<line x1="160.64" y1="304.5" x2="166.64" y2="304.5" stroke="#111" stroke-width="1"/>
<circle cx="163.64" cy="304.27" r="4" fill="#000"/>
<circle cx="163.64" cy="310.96" r="4" fill="#000"/>
<line x1="177.5" y1="345.38" x2="177.5" y2="353.02" stroke="#111" stroke-width="1"/>
<line x1="174.24" y1="345.5" x2="180.24" y2="345.5" stroke="#111" stroke-width="1"/>
<rect x="173.24" y="341.38" width="8" height="8" fill="#000"/>
<rect x="173.24" y="349.02" width="8" height="8" fill="#000"/>
<line x1="190.5" y1="356.85" x2="190.5" y2="364.5" stroke="#111" stroke-width="1"/>
<line x1="187.74" y1="356.5" x2="193.74" y2="356.5" stroke="#111" stroke-width="1"/>
<path d="M190.74 352.53L194.74 359.73L186.74 359.73Z" fill="#000"/>
<path d="M190.74 360.18L194.74 367.38L186.74 367.38Z" fill="#000"/>
<line x1="213.5" y1="305.22" x2="213.5" y2="313.83" stroke="#111" stroke-width="1"/>
<line x1="210.51" y1="305.5" x2="216.51" y2="305.5" stroke="#111" stroke-width="1"/>
<circle cx="213.51" cy="305.22" r="4" fill="#000"/>
<circle cx="213.51" cy="313.83" r="4" fill="#000"/>
<line x1="227.5" y1="354.46" x2="227.5" y2="359.72" stroke="#111" stroke-width="1"/>
<line x1="224.11" y1="354.5" x2="230.11" y2="354.5" stroke="#111" stroke-width="1"/>
<rect x="223.11" y="350.46" width="8" height="8" fill="#000"/>
<rect x="223.11" y="355.72" width="8" height="8" fill="#000"/>
<line x1="240.5" y1="368.32" x2="240.5" y2="371.19" stroke="#111" stroke-width="1"/>
<line x1="237.61" y1="368.5" x2="243.61" y2="368.5" stroke="#111" stroke-width="1"/>
<path d="M240.61 364L244.61 371.2L236.61 371.2Z" fill="#000"/>
<path d="M240.61 366.87L244.61 374.07L236.61 374.07Z" fill="#000"/>
<line x1="263.5" y1="308.09" x2="263.5" y2="317.17" stroke="#111" stroke-width="1"/>
<line x1="260.38" y1="308.5" x2="266.38" y2="308.5" stroke="#111" stroke-width="1"/>
<circle cx="263.38" cy="308.09" r="4" fill="#000"/>
<circle cx="263.38" cy="317.17" r="4" fill="#000"/>
<line x1="276.5" y1="363.54" x2="276.5" y2="373.1" stroke="#111" stroke-width="1"/>
<line x1="273.98" y1="363.5" x2="279.98" y2="363.5" stroke="#111" stroke-width="1"/>
<rect x="272.98" y="359.54" width="8" height="8" fill="#000"/>
<rect x="272.98" y="369.1" width="8" height="8" fill="#000"/>
<line x1="290.5" y1="374.06" x2="290.5" y2="379.79" stroke="#111" stroke-width="1"/>
<line x1="287.48" y1="374.5" x2="293.48" y2="374.5" stroke="#111" stroke-width="1"/>
<path d="M290.48 369.74L294.48 376.94L286.48 376.94Z" fill="#000"/>
<path d="M290.48 375.47L294.48 382.67L286.48 382.67Z" fill="#000"/>
<line x1="313.5" y1="312.39" x2="313.5" y2="321.48" stroke="#111" stroke-width="1"/>
<line x1="310.25" y1="312.5" x2="316.25" y2="312.5" stroke="#111" stroke-width="1"/>
<circle cx="313.25" cy="312.39" r="4" fill="#000"/>
<circle cx="313.25" cy="321.48" r="4" fill="#000"/>
<line x1="326.5" y1="364.5" x2="326.5" y2="376.35" stroke="#111" stroke-width="1"/>
<line x1="323.85" y1="364.5" x2="329.85" y2="364.5" stroke="#111" stroke-width="1"/>
<rect x="322.85" y="360.5" width="8" height="8" fill="#000"/>
<rect x="322.85" y="372.35" width="8" height="8" fill="#000"/>
<line x1="340.5" y1="376.35" x2="340.5" y2="382.95" stroke="#111" stroke-width="1"/>
<line x1="337.35" y1="376.5" x2="343.35" y2="376.5" stroke="#111" stroke-width="1"/>
<path d="M340.35 372.03L344.35 379.23L336.35 379.23Z" fill="#000"/>
<path d="M340.35 378.63L344.35 385.83L336.35 385.83Z" fill="#000"/>
<line x1="363.5" y1="314.98" x2="363.5" y2="326.26" stroke="#111" stroke-width="1"/>
<line x1="360.12" y1="314.5" x2="366.12" y2="314.5" stroke="#111" stroke-width="1"/>
<circle cx="363.12" cy="314.98" r="4" fill="#000"/>
<circle cx="363.12" cy="326.26" r="4" fill="#000"/>
<line x1="376.5" y1="374.06" x2="376.5" y2="379.79" stroke="#111" stroke-width="1"/>
<line x1="373.72" y1="374.5" x2="379.72" y2="374.5" stroke="#111" stroke-width="1"/>
<rect x="372.72" y="370.06" width="8" height="8" fill="#000"/>
<rect x="372.72" y="375.79" width="8" height="8" fill="#000"/>
<line x1="390.5" y1="377.4" x2="390.5" y2="385.05" stroke="#111" stroke-width="1"/>
<line x1="387.22" y1="377.5" x2="393.22" y2="377.5" stroke="#111" stroke-width="1"/>
<path d="M390.22 373.08L394.22 380.28L386.22 380.28Z" fill="#000"/>
<path d="M390.22 380.73L394.22 387.93L386.22 387.93Z" fill="#000"/>
<line x1="412.5" y1="323.39" x2="412.5" y2="329.32" stroke="#111" stroke-width="1"/>
<line x1="409.99" y1="323.5" x2="415.99" y2="323.5" stroke="#111" stroke-width="1"/>
<circle cx="412.99" cy="323.39" r="4" fill="#000"/>
<circle cx="412.99" cy="329.32" r="4" fill="#000"/>
<line x1="426.5" y1="376.35" x2="426.5" y2="382.95" stroke="#111" stroke-width="1"/>
<line x1="423.59" y1="376.5" x2="429.59" y2="376.5" stroke="#111" stroke-width="1"/>
<rect x="422.59" y="372.35" width="8" height="8" fill="#000"/>
<rect x="422.59" y="378.95" width="8" height="8" fill="#000"/>
<line x1="440.5" y1="381.23" x2="440.5" y2="386.2" stroke="#111" stroke-width="1"/>
<line x1="437.09" y1="381.5" x2="443.09" y2="381.5" stroke="#111" stroke-width="1"/>
<path d="M440.09 376.91L444.09 384.11L436.09 384.11Z" fill="#000"/>
<path d="M440.09 381.88L444.09 389.08L436.09 389.08Z" fill="#000"/>
<line x1="462.5" y1="334.86" x2="462.5" y2="345.66" stroke="#111" stroke-width="1"/>
<line x1="459.86" y1="334.5" x2="465.86" y2="334.5" stroke="#111" stroke-width="1"/>
<circle cx="462.86" cy="334.86" r="4" fill="#000"/>
<circle cx="462.86" cy="345.66" r="4" fill="#000"/>
<line x1="476.5" y1="379.79" x2="476.5" y2="386.2" stroke="#111" stroke-width="1"/>
<line x1="473.46" y1="379.5" x2="479.46" y2="379.5" stroke="#111" stroke-width="1"/>
<rect x="472.46" y="375.79" width="8" height="8" fill="#000"/>
<rect x="472.46" y="382.2" width="8" height="8" fill="#000"/>
<line x1="489.5" y1="382.95" x2="489.5" y2="387.44" stroke="#111" stroke-width="1"/>
<line x1="486.96" y1="382.5" x2="492.96" y2="382.5" stroke="#111" stroke-width="1"/>
<path d="M489.96 378.63L493.96 385.83L485.96 385.83Z" fill="#000"/>
<path d="M489.96 383.12L493.96 390.32L485.96 390.32Z" fill="#000"/>
<line x1="512.5" y1="343.46" x2="512.5" y2="356.85" stroke="#111" stroke-width="1"/>
<line x1="509.73" y1="343.5" x2="515.73" y2="343.5" stroke="#111" stroke-width="1"/>
<circle cx="512.73" cy="343.46" r="4" fill="#000"/>
<circle cx="512.73" cy="356.85" r="4" fill="#000"/>
<line x1="526.5" y1="383.04" x2="526.5" y2="387.44" stroke="#111" stroke-width="1"/>
<line x1="523.33" y1="383.5" x2="529.33" y2="383.5" stroke="#111" stroke-width="1"/>
<rect x="522.33" y="379.04" width="8" height="8" fill="#000"/>
<rect x="522.33" y="383.44" width="8" height="8" fill="#000"/>
<line x1="539.5" y1="384.57" x2="539.5" y2="388.4" stroke="#111" stroke-width="1"/>
<line x1="536.83" y1="384.5" x2="542.83" y2="384.5" stroke="#111" stroke-width="1"/>
<path d="M539.83 380.25L543.83 387.45L535.83 387.45Z" fill="#000"/>
<path d="M539.83 384.08L543.83 391.28L535.83 391.28Z" fill="#000"/>
<text x="270.2" y="424.5" font-size="10">[MOI of RT3D]</text>
<text x="25.6" y="350.5" font-size="10" text-anchor="middle" transform="rotate(-90 25.6 350.5)">% of cell survival</text>
<circle cx="144.4" cy="441.5" r="4" fill="#000"/>
<text x="166.8" y="446" font-size="10">PARP-1<tspan font-size="7" dy="-4">+/+</tspan><tspan dy="4"> wt</tspan></text>
<rect x="247.4" y="438.1" width="7.9" height="7.4" fill="#000"/>
<text x="273.1" y="447.3" font-size="10">PARP1 <tspan font-size="7" dy="-4.5">G3</tspan><tspan dy="4.5"> null</tspan></text>
<path d="M351 440.6L355 447.4L347 447.4Z" fill="#000"/>
<text x="373.3" y="449" font-size="10">PARP1 <tspan font-size="7" dy="-4.5">G9</tspan><tspan dy="4.5"> null</tspan></text>
<text x="4" y="475.2" font-size="14.5">E.</text>
<text x="88.6" y="472.1" font-size="9">-RT3D</text>
<line x1="78.3" y1="476.5" x2="131.7" y2="476.5" stroke="#111" stroke-width="1"/>
<text x="135.7" y="472.1" font-size="9">+RT3D [MOI of 0.1]</text>
<line x1="137.9" y1="476.5" x2="191.1" y2="476.5" stroke="#111" stroke-width="1"/>
<text x="75.2" y="486.8" font-size="9" text-anchor="end">talazop (0.1 &#956;M)</text>
<text x="90.8" y="487" font-size="10.5" text-anchor="middle" font-weight="bold">-</text>
<text x="123" y="487" font-size="10.5" text-anchor="middle" font-weight="bold">+</text>
<text x="147.1" y="487" font-size="10.5" text-anchor="middle" font-weight="bold">-</text>
<text x="179.5" y="487" font-size="10.5" text-anchor="middle" font-weight="bold">+</text>
<rect x="75.6" y="490.8" width="122.7" height="32" fill="#7b7a82" stroke="#333" stroke-width="1.5"/>
<circle cx="92.2" cy="506.9" r="15.2" fill="#8a8890"/>
<circle cx="92.2" cy="506.9" r="14.1" fill="#5a5494"/>
<circle cx="92.2" cy="506.9" r="13.5" fill="#231a60"/>
<circle cx="121.8" cy="506.9" r="15.2" fill="#8a8890"/>
<circle cx="121.8" cy="506.9" r="14.1" fill="#5a5494"/>
<circle cx="121.8" cy="506.9" r="13.5" fill="#231a60"/>
<circle cx="151.4" cy="506.9" r="15.2" fill="#8a8890"/>
<circle cx="151.4" cy="506.9" r="14.1" fill="#a09cb0"/>
<circle cx="151.4" cy="506.9" r="13.4" fill="#6c6282"/>
<circle cx="180.8" cy="506.9" r="15.2" fill="#8a8890"/>
<circle cx="180.8" cy="506.9" r="14.1" fill="#a09cb0"/>
<circle cx="180.8" cy="506.9" r="13.4" fill="#716a86"/>
<rect x="75.6" y="526.7" width="122.7" height="31.2" fill="#7b7a82" stroke="#333" stroke-width="1.5"/>
<circle cx="92.2" cy="542.3" r="15.2" fill="#8a8890"/>
<circle cx="92.2" cy="542.3" r="14.1" fill="#5a5494"/>
<circle cx="92.2" cy="542.3" r="13.5" fill="#231a60"/>
<circle cx="121.8" cy="542.3" r="15.2" fill="#8a8890"/>
<circle cx="121.8" cy="542.3" r="14.1" fill="#5a5494"/>
<circle cx="121.8" cy="542.3" r="13.5" fill="#231a60"/>
<circle cx="151.4" cy="542.3" r="15.2" fill="#8a8890"/>
<circle cx="151.4" cy="542.3" r="14.1" fill="#a09cb0"/>
<circle cx="151.4" cy="542.3" r="13.4" fill="#706884"/>
<circle cx="180.8" cy="542.3" r="15.2" fill="#8a8890"/>
<circle cx="180.8" cy="542.3" r="14.1" fill="#a09cb0"/>
<circle cx="180.8" cy="542.3" r="13.4" fill="#726b86"/>
<rect x="75.6" y="560.9" width="122.7" height="32" fill="#7b7a82" stroke="#333" stroke-width="1.5"/>
<circle cx="92.2" cy="576.9" r="15.2" fill="#8a8890"/>
<circle cx="92.2" cy="576.9" r="14.1" fill="#5a5494"/>
<circle cx="92.2" cy="576.9" r="13.5" fill="#231a60"/>
<circle cx="121.8" cy="576.9" r="15.2" fill="#8a8890"/>
<circle cx="121.8" cy="576.9" r="14.1" fill="#5a5494"/>
<circle cx="121.8" cy="576.9" r="13.5" fill="#231a60"/>
<circle cx="151.4" cy="576.9" r="15.2" fill="#8a8890"/>
<circle cx="151.4" cy="576.9" r="14.1" fill="#5a5494"/>
<circle cx="151.4" cy="576.9" r="13.5" fill="#231a60"/>
<circle cx="180.8" cy="576.9" r="15.2" fill="#8a8890"/>
<circle cx="180.8" cy="576.9" r="14.1" fill="#a09cb0"/>
<circle cx="180.8" cy="576.9" r="13.4" fill="#736889"/>
<text x="50.3" y="505.6" font-size="9.3" text-anchor="middle">PARP1</text>
<text x="50.3" y="516.8" font-size="9.3" text-anchor="middle">G3 -/-</text>
<text x="50.3" y="538.2" font-size="9.3" text-anchor="middle">PARP1</text>
<text x="50.3" y="549.1" font-size="9.3" text-anchor="middle">G9 -/-</text>
<text x="50.3" y="575.2" font-size="9.3" text-anchor="middle">PARP1</text>
<text x="50.3" y="585.6" font-size="9.3" text-anchor="middle">+/+</text>
<text x="237.9" y="475.2" font-size="14.5">F.</text>
<line x1="279.5" y1="494.8" x2="279.5" y2="577.9" stroke="#111" stroke-width="1"/>
<line x1="276" y1="577.5" x2="279" y2="577.5" stroke="#111" stroke-width="1"/>
<text x="272.5" y="580.2" font-size="8.5" text-anchor="end">0</text>
<line x1="276" y1="556.5" x2="279" y2="556.5" stroke="#111" stroke-width="1"/>
<text x="272.5" y="559.68" font-size="8.5" text-anchor="end">25</text>
<line x1="276" y1="536.5" x2="279" y2="536.5" stroke="#111" stroke-width="1"/>
<text x="272.5" y="539.15" font-size="8.5" text-anchor="end">50</text>
<line x1="276" y1="515.5" x2="279" y2="515.5" stroke="#111" stroke-width="1"/>
<text x="272.5" y="518.63" font-size="8.5" text-anchor="end">75</text>
<line x1="276" y1="495.5" x2="279" y2="495.5" stroke="#111" stroke-width="1"/>
<text x="272.5" y="498.11" font-size="8.5" text-anchor="end">100</text>
<line x1="279" y1="577.5" x2="381.5" y2="577.5" stroke="#111" stroke-width="1"/>
<line x1="292.5" y1="577.4" x2="292.5" y2="579.9" stroke="#111" stroke-width="1"/>
<line x1="318.5" y1="577.4" x2="318.5" y2="579.9" stroke="#111" stroke-width="1"/>
<line x1="343.5" y1="577.4" x2="343.5" y2="579.9" stroke="#111" stroke-width="1"/>
<line x1="369.5" y1="577.4" x2="369.5" y2="579.9" stroke="#111" stroke-width="1"/>
<text x="279.6" y="488.8" font-size="8.7">Hela PARP1<tspan font-size="6" dy="-3.5">+/+</tspan></text>
<text x="293.6" y="589.4" font-size="8.5" text-anchor="end" transform="rotate(-45 293.6 589.4)">0</text>
<text x="319.3" y="589.4" font-size="8.5" text-anchor="end" transform="rotate(-45 319.3 589.4)">0.01</text>
<text x="344.9" y="589.4" font-size="8.5" text-anchor="end" transform="rotate(-45 344.9 589.4)">0.1</text>
<text x="370.5" y="589.4" font-size="8.5" text-anchor="end" transform="rotate(-45 370.5 589.4)">1</text>
<text x="330.6" y="614.4" font-size="8.7" text-anchor="middle">MOI of RT3D</text>
<text x="250.9" y="535" font-size="8.5" text-anchor="middle" transform="rotate(-90 250.9 535)">% of cell survival</text>
<polyline points="292.6,506.79 318.3,544.56 343.9,563.44 369.5,567.71" fill="none" stroke="#ff3a14" stroke-width="1.1"/>
<polyline points="292.6,505.15 318.3,534.13 343.9,556.88 369.5,562.05" fill="none" stroke="#2350ff" stroke-width="1.1"/>
<polyline points="292.6,495.3 318.3,511.39 343.9,516.15 369.5,520.83" fill="none" stroke="#9d4ff0" stroke-width="1.1"/>
<line x1="292.5" y1="505.15" x2="292.5" y2="508.44" stroke="#111" stroke-width="0.9"/>
<line x1="290.1" y1="505.5" x2="295.1" y2="505.5" stroke="#111" stroke-width="0.9"/>
<line x1="290.1" y1="508.5" x2="295.1" y2="508.5" stroke="#111" stroke-width="0.9"/>
<path d="M292.6 504.09L295.1 508.59L290.1 508.59Z" fill="#000"/>
<line x1="318.5" y1="539.63" x2="318.5" y2="549.49" stroke="#111" stroke-width="0.9"/>
<line x1="315.8" y1="539.5" x2="320.8" y2="539.5" stroke="#111" stroke-width="0.9"/>
<line x1="315.8" y1="549.5" x2="320.8" y2="549.5" stroke="#111" stroke-width="0.9"/>
<path d="M318.3 541.86L320.8 546.36L315.8 546.36Z" fill="#000"/>
<line x1="343.5" y1="560.98" x2="343.5" y2="565.91" stroke="#111" stroke-width="0.9"/>
<line x1="341.4" y1="560.5" x2="346.4" y2="560.5" stroke="#111" stroke-width="0.9"/>
<line x1="341.4" y1="565.5" x2="346.4" y2="565.5" stroke="#111" stroke-width="0.9"/>
<path d="M343.9 560.74L346.4 565.24L341.4 565.24Z" fill="#000"/>
<line x1="369.5" y1="566.89" x2="369.5" y2="568.53" stroke="#111" stroke-width="0.9"/>
<line x1="367" y1="566.5" x2="372" y2="566.5" stroke="#111" stroke-width="0.9"/>
<line x1="367" y1="568.5" x2="372" y2="568.5" stroke="#111" stroke-width="0.9"/>
<path d="M369.5 565.01L372 569.51L367 569.51Z" fill="#000"/>
<line x1="292.5" y1="503.51" x2="292.5" y2="506.79" stroke="#111" stroke-width="0.9"/>
<line x1="290.1" y1="503.5" x2="295.1" y2="503.5" stroke="#111" stroke-width="0.9"/>
<line x1="290.1" y1="506.5" x2="295.1" y2="506.5" stroke="#111" stroke-width="0.9"/>
<rect x="290.1" y="502.65" width="5" height="5" fill="#000"/>
<line x1="318.5" y1="528.39" x2="318.5" y2="539.88" stroke="#111" stroke-width="0.9"/>
<line x1="315.8" y1="528.5" x2="320.8" y2="528.5" stroke="#111" stroke-width="0.9"/>
<line x1="315.8" y1="539.5" x2="320.8" y2="539.5" stroke="#111" stroke-width="0.9"/>
<rect x="315.8" y="531.63" width="5" height="5" fill="#000"/>
<line x1="343.5" y1="553.59" x2="343.5" y2="560.16" stroke="#111" stroke-width="0.9"/>
<line x1="341.4" y1="553.5" x2="346.4" y2="553.5" stroke="#111" stroke-width="0.9"/>
<line x1="341.4" y1="560.5" x2="346.4" y2="560.5" stroke="#111" stroke-width="0.9"/>
<rect x="341.4" y="554.38" width="5" height="5" fill="#000"/>
<line x1="369.5" y1="559.58" x2="369.5" y2="564.51" stroke="#111" stroke-width="0.9"/>
<line x1="367" y1="559.5" x2="372" y2="559.5" stroke="#111" stroke-width="0.9"/>
<line x1="367" y1="564.5" x2="372" y2="564.5" stroke="#111" stroke-width="0.9"/>
<rect x="367" y="559.55" width="5" height="5" fill="#000"/>
<circle cx="292.6" cy="495.3" r="2.7" fill="#000"/>
<line x1="318.5" y1="508.11" x2="318.5" y2="514.68" stroke="#111" stroke-width="0.9"/>
<line x1="315.8" y1="508.5" x2="320.8" y2="508.5" stroke="#111" stroke-width="0.9"/>
<line x1="315.8" y1="514.5" x2="320.8" y2="514.5" stroke="#111" stroke-width="0.9"/>
<circle cx="318.3" cy="511.39" r="2.7" fill="#000"/>
<line x1="343.5" y1="513.69" x2="343.5" y2="518.62" stroke="#111" stroke-width="0.9"/>
<line x1="341.4" y1="513.5" x2="346.4" y2="513.5" stroke="#111" stroke-width="0.9"/>
<line x1="341.4" y1="518.5" x2="346.4" y2="518.5" stroke="#111" stroke-width="0.9"/>
<circle cx="343.9" cy="516.15" r="2.7" fill="#000"/>
<line x1="369.5" y1="517.55" x2="369.5" y2="524.12" stroke="#111" stroke-width="0.9"/>
<line x1="367" y1="517.5" x2="372" y2="517.5" stroke="#111" stroke-width="0.9"/>
<line x1="367" y1="524.5" x2="372" y2="524.5" stroke="#111" stroke-width="0.9"/>
<circle cx="369.5" cy="520.83" r="2.7" fill="#000"/>
<text x="320.8" y="506.2" font-size="8.5" text-anchor="middle">***</text>
<text x="348.1" y="512.1" font-size="8.5" text-anchor="middle">***</text>
<text x="369.8" y="516.3" font-size="8.5" text-anchor="middle">***</text>
<line x1="430.5" y1="494" x2="430.5" y2="576.7" stroke="#111" stroke-width="1"/>
<line x1="427.1" y1="576.5" x2="430.1" y2="576.5" stroke="#111" stroke-width="1"/>
<text x="423.6" y="579" font-size="8.5" text-anchor="end">0</text>
<line x1="427.1" y1="555.5" x2="430.1" y2="555.5" stroke="#111" stroke-width="1"/>
<text x="423.6" y="558.58" font-size="8.5" text-anchor="end">25</text>
<line x1="427.1" y1="535.5" x2="430.1" y2="535.5" stroke="#111" stroke-width="1"/>
<text x="423.6" y="538.15" font-size="8.5" text-anchor="end">50</text>
<line x1="427.1" y1="514.5" x2="430.1" y2="514.5" stroke="#111" stroke-width="1"/>
<text x="423.6" y="517.73" font-size="8.5" text-anchor="end">75</text>
<line x1="427.1" y1="494.5" x2="430.1" y2="494.5" stroke="#111" stroke-width="1"/>
<text x="423.6" y="497.31" font-size="8.5" text-anchor="end">100</text>
<line x1="430.1" y1="576.5" x2="533.4" y2="576.5" stroke="#111" stroke-width="1"/>
<line x1="443.5" y1="576.2" x2="443.5" y2="578.7" stroke="#111" stroke-width="1"/>
<line x1="469.5" y1="576.2" x2="469.5" y2="578.7" stroke="#111" stroke-width="1"/>
<line x1="495.5" y1="576.2" x2="495.5" y2="578.7" stroke="#111" stroke-width="1"/>
<line x1="520.5" y1="576.2" x2="520.5" y2="578.7" stroke="#111" stroke-width="1"/>
<text x="431.2" y="488.8" font-size="8.7">Hela PARP-1<tspan font-size="6" dy="-3.5">-/-</tspan><tspan dy="3.5"> (clone G3)</tspan></text>
<text x="444.6" y="588.2" font-size="8.5" text-anchor="end" transform="rotate(-45 444.6 588.2)">0</text>
<text x="470.3" y="588.2" font-size="8.5" text-anchor="end" transform="rotate(-45 470.3 588.2)">0.01</text>
<text x="496.1" y="588.2" font-size="8.5" text-anchor="end" transform="rotate(-45 496.1 588.2)">0.1</text>
<text x="521.9" y="588.2" font-size="8.5" text-anchor="end" transform="rotate(-45 521.9 588.2)">1</text>
<text x="483.2" y="614.4" font-size="8.7" text-anchor="middle">MOI of RT3D</text>
<text x="401.3" y="535" font-size="8.5" text-anchor="middle" transform="rotate(-90 401.3 535)">% of cell survival</text>
<polyline points="443.6,495.32 469.3,536.17 495.1,556.59 520.9,566.4" fill="none" stroke="#9d4ff0" stroke-width="1.1"/>
<polyline points="443.6,496.13 469.3,537.8 495.1,558.23 520.9,567.62" fill="none" stroke="#ff3a14" stroke-width="1.1"/>
<polyline points="443.6,495.32 469.3,536.58 495.1,556.18 520.9,565.58" fill="none" stroke="#2350ff" stroke-width="1.1"/>
<line x1="443.5" y1="495.32" x2="443.5" y2="496.95" stroke="#111" stroke-width="0.9"/>
<line x1="441.1" y1="495.5" x2="446.1" y2="495.5" stroke="#111" stroke-width="0.9"/>
<line x1="441.1" y1="496.5" x2="446.1" y2="496.5" stroke="#111" stroke-width="0.9"/>
<path d="M443.6 493.43L446.1 497.93L441.1 497.93Z" fill="#000"/>
<line x1="469.5" y1="535.35" x2="469.5" y2="540.25" stroke="#111" stroke-width="0.9"/>
<line x1="466.8" y1="535.5" x2="471.8" y2="535.5" stroke="#111" stroke-width="0.9"/>
<line x1="466.8" y1="540.5" x2="471.8" y2="540.5" stroke="#111" stroke-width="0.9"/>
<path d="M469.3 535.1L471.8 539.6L466.8 539.6Z" fill="#000"/>
<line x1="495.5" y1="554.96" x2="495.5" y2="561.49" stroke="#111" stroke-width="0.9"/>
<line x1="492.6" y1="554.5" x2="497.6" y2="554.5" stroke="#111" stroke-width="0.9"/>
<line x1="492.6" y1="561.5" x2="497.6" y2="561.5" stroke="#111" stroke-width="0.9"/>
<path d="M495.1 555.53L497.6 560.03L492.6 560.03Z" fill="#000"/>
<line x1="520.5" y1="565.99" x2="520.5" y2="569.26" stroke="#111" stroke-width="0.9"/>
<line x1="518.4" y1="565.5" x2="523.4" y2="565.5" stroke="#111" stroke-width="0.9"/>
<line x1="518.4" y1="569.5" x2="523.4" y2="569.5" stroke="#111" stroke-width="0.9"/>
<path d="M520.9 564.92L523.4 569.42L518.4 569.42Z" fill="#000"/>
<line x1="443.5" y1="494.5" x2="443.5" y2="496.13" stroke="#111" stroke-width="0.9"/>
<line x1="441.1" y1="494.5" x2="446.1" y2="494.5" stroke="#111" stroke-width="0.9"/>
<line x1="441.1" y1="496.5" x2="446.1" y2="496.5" stroke="#111" stroke-width="0.9"/>
<rect x="441.1" y="492.82" width="5" height="5" fill="#000"/>
<line x1="469.5" y1="534.12" x2="469.5" y2="539.03" stroke="#111" stroke-width="0.9"/>
<line x1="466.8" y1="534.5" x2="471.8" y2="534.5" stroke="#111" stroke-width="0.9"/>
<line x1="466.8" y1="539.5" x2="471.8" y2="539.5" stroke="#111" stroke-width="0.9"/>
<rect x="466.8" y="534.08" width="5" height="5" fill="#000"/>
<line x1="495.5" y1="552.92" x2="495.5" y2="559.45" stroke="#111" stroke-width="0.9"/>
<line x1="492.6" y1="552.5" x2="497.6" y2="552.5" stroke="#111" stroke-width="0.9"/>
<line x1="492.6" y1="559.5" x2="497.6" y2="559.5" stroke="#111" stroke-width="0.9"/>
<rect x="492.6" y="553.68" width="5" height="5" fill="#000"/>
<line x1="520.5" y1="563.95" x2="520.5" y2="567.21" stroke="#111" stroke-width="0.9"/>
<line x1="518.4" y1="563.5" x2="523.4" y2="563.5" stroke="#111" stroke-width="0.9"/>
<line x1="518.4" y1="567.5" x2="523.4" y2="567.5" stroke="#111" stroke-width="0.9"/>
<rect x="518.4" y="563.08" width="5" height="5" fill="#000"/>
<line x1="443.5" y1="494.5" x2="443.5" y2="496.13" stroke="#111" stroke-width="0.9"/>
<line x1="441.1" y1="494.5" x2="446.1" y2="494.5" stroke="#111" stroke-width="0.9"/>
<line x1="441.1" y1="496.5" x2="446.1" y2="496.5" stroke="#111" stroke-width="0.9"/>
<circle cx="443.6" cy="495.32" r="2.7" fill="#000"/>
<line x1="469.5" y1="533.72" x2="469.5" y2="538.62" stroke="#111" stroke-width="0.9"/>
<line x1="466.8" y1="533.5" x2="471.8" y2="533.5" stroke="#111" stroke-width="0.9"/>
<line x1="466.8" y1="538.5" x2="471.8" y2="538.5" stroke="#111" stroke-width="0.9"/>
<circle cx="469.3" cy="536.17" r="2.7" fill="#000"/>
<line x1="495.5" y1="554.14" x2="495.5" y2="559.04" stroke="#111" stroke-width="0.9"/>
<line x1="492.6" y1="554.5" x2="497.6" y2="554.5" stroke="#111" stroke-width="0.9"/>
<line x1="492.6" y1="559.5" x2="497.6" y2="559.5" stroke="#111" stroke-width="0.9"/>
<circle cx="495.1" cy="556.59" r="2.7" fill="#000"/>
<line x1="520.5" y1="564.76" x2="520.5" y2="568.03" stroke="#111" stroke-width="0.9"/>
<line x1="518.4" y1="564.5" x2="523.4" y2="564.5" stroke="#111" stroke-width="0.9"/>
<line x1="518.4" y1="568.5" x2="523.4" y2="568.5" stroke="#111" stroke-width="0.9"/>
<circle cx="520.9" cy="566.4" r="2.7" fill="#000"/>
<line x1="581.5" y1="494.3" x2="581.5" y2="576.3" stroke="#111" stroke-width="1"/>
<line x1="578.3" y1="575.5" x2="581.3" y2="575.5" stroke="#111" stroke-width="1"/>
<text x="574.8" y="578.6" font-size="8.5" text-anchor="end">0</text>
<line x1="578.3" y1="555.5" x2="581.3" y2="555.5" stroke="#111" stroke-width="1"/>
<text x="574.8" y="558.35" font-size="8.5" text-anchor="end">25</text>
<line x1="578.3" y1="535.5" x2="581.3" y2="535.5" stroke="#111" stroke-width="1"/>
<text x="574.8" y="538.1" font-size="8.5" text-anchor="end">50</text>
<line x1="578.3" y1="515.5" x2="581.3" y2="515.5" stroke="#111" stroke-width="1"/>
<text x="574.8" y="517.85" font-size="8.5" text-anchor="end">75</text>
<line x1="578.3" y1="494.5" x2="581.3" y2="494.5" stroke="#111" stroke-width="1"/>
<text x="574.8" y="497.61" font-size="8.5" text-anchor="end">100</text>
<line x1="581.3" y1="575.5" x2="684" y2="575.5" stroke="#111" stroke-width="1"/>
<line x1="594.5" y1="575.8" x2="594.5" y2="578.3" stroke="#111" stroke-width="1"/>
<line x1="620.5" y1="575.8" x2="620.5" y2="578.3" stroke="#111" stroke-width="1"/>
<line x1="646.5" y1="575.8" x2="646.5" y2="578.3" stroke="#111" stroke-width="1"/>
<line x1="671.5" y1="575.8" x2="671.5" y2="578.3" stroke="#111" stroke-width="1"/>
<text x="582.3" y="488.8" font-size="8.7">Hela PARP-1<tspan font-size="6" dy="-3.5">-/-</tspan><tspan dy="3.5"> (clone G9)</tspan></text>
<text x="595.6" y="587.8" font-size="8.5" text-anchor="end" transform="rotate(-45 595.6 587.8)">0</text>
<text x="621.4" y="587.8" font-size="8.5" text-anchor="end" transform="rotate(-45 621.4 587.8)">0.01</text>
<text x="647.3" y="587.8" font-size="8.5" text-anchor="end" transform="rotate(-45 647.3 587.8)">0.1</text>
<text x="672.7" y="587.8" font-size="8.5" text-anchor="end" transform="rotate(-45 672.7 587.8)">1</text>
<text x="634" y="614.4" font-size="8.7" text-anchor="middle">MOI of RT3D</text>
<text x="552" y="535" font-size="8.5" text-anchor="middle" transform="rotate(-90 552 535)">% of cell survival</text>
<polyline points="594.6,495.61 620.4,543 646.3,557.17 671.7,569.32" fill="none" stroke="#2350ff" stroke-width="1.1"/>
<polyline points="594.6,495.61 620.4,543.4 646.3,558.79 671.7,569.32" fill="none" stroke="#ff3a14" stroke-width="1.1"/>
<polyline points="594.6,495.61 620.4,542.59 646.3,557.98 671.7,569.32" fill="none" stroke="#9d4ff0" stroke-width="1.1"/>
<line x1="594.5" y1="494.8" x2="594.5" y2="496.42" stroke="#111" stroke-width="0.9"/>
<line x1="592.1" y1="494.5" x2="597.1" y2="494.5" stroke="#111" stroke-width="0.9"/>
<line x1="592.1" y1="496.5" x2="597.1" y2="496.5" stroke="#111" stroke-width="0.9"/>
<path d="M594.6 492.91L597.1 497.41L592.1 497.41Z" fill="#000"/>
<line x1="620.5" y1="541.78" x2="620.5" y2="545.02" stroke="#111" stroke-width="0.9"/>
<line x1="617.9" y1="541.5" x2="622.9" y2="541.5" stroke="#111" stroke-width="0.9"/>
<line x1="617.9" y1="545.5" x2="622.9" y2="545.5" stroke="#111" stroke-width="0.9"/>
<path d="M620.4 540.7L622.9 545.2L617.9 545.2Z" fill="#000"/>
<line x1="646.5" y1="555.55" x2="646.5" y2="562.03" stroke="#111" stroke-width="0.9"/>
<line x1="643.8" y1="555.5" x2="648.8" y2="555.5" stroke="#111" stroke-width="0.9"/>
<line x1="643.8" y1="562.5" x2="648.8" y2="562.5" stroke="#111" stroke-width="0.9"/>
<path d="M646.3 556.09L648.8 560.59L643.8 560.59Z" fill="#000"/>
<line x1="671.5" y1="568.51" x2="671.5" y2="570.13" stroke="#111" stroke-width="0.9"/>
<line x1="669.2" y1="568.5" x2="674.2" y2="568.5" stroke="#111" stroke-width="0.9"/>
<line x1="669.2" y1="570.5" x2="674.2" y2="570.5" stroke="#111" stroke-width="0.9"/>
<path d="M671.7 566.62L674.2 571.12L669.2 571.12Z" fill="#000"/>
<line x1="594.5" y1="494.8" x2="594.5" y2="496.42" stroke="#111" stroke-width="0.9"/>
<line x1="592.1" y1="494.5" x2="597.1" y2="494.5" stroke="#111" stroke-width="0.9"/>
<line x1="592.1" y1="496.5" x2="597.1" y2="496.5" stroke="#111" stroke-width="0.9"/>
<rect x="592.1" y="493.11" width="5" height="5" fill="#000"/>
<line x1="620.5" y1="541.38" x2="620.5" y2="544.62" stroke="#111" stroke-width="0.9"/>
<line x1="617.9" y1="541.5" x2="622.9" y2="541.5" stroke="#111" stroke-width="0.9"/>
<line x1="617.9" y1="544.5" x2="622.9" y2="544.5" stroke="#111" stroke-width="0.9"/>
<rect x="617.9" y="540.5" width="5" height="5" fill="#000"/>
<line x1="646.5" y1="553.12" x2="646.5" y2="561.22" stroke="#111" stroke-width="0.9"/>
<line x1="643.8" y1="553.5" x2="648.8" y2="553.5" stroke="#111" stroke-width="0.9"/>
<line x1="643.8" y1="561.5" x2="648.8" y2="561.5" stroke="#111" stroke-width="0.9"/>
<rect x="643.8" y="554.67" width="5" height="5" fill="#000"/>
<line x1="671.5" y1="568.51" x2="671.5" y2="570.13" stroke="#111" stroke-width="0.9"/>
<line x1="669.2" y1="568.5" x2="674.2" y2="568.5" stroke="#111" stroke-width="0.9"/>
<line x1="669.2" y1="570.5" x2="674.2" y2="570.5" stroke="#111" stroke-width="0.9"/>
<rect x="669.2" y="566.82" width="5" height="5" fill="#000"/>
<line x1="594.5" y1="494.8" x2="594.5" y2="496.42" stroke="#111" stroke-width="0.9"/>
<line x1="592.1" y1="494.5" x2="597.1" y2="494.5" stroke="#111" stroke-width="0.9"/>
<line x1="592.1" y1="496.5" x2="597.1" y2="496.5" stroke="#111" stroke-width="0.9"/>
<circle cx="594.6" cy="495.61" r="2.7" fill="#000"/>
<line x1="620.5" y1="540.97" x2="620.5" y2="544.21" stroke="#111" stroke-width="0.9"/>
<line x1="617.9" y1="540.5" x2="622.9" y2="540.5" stroke="#111" stroke-width="0.9"/>
<line x1="617.9" y1="544.5" x2="622.9" y2="544.5" stroke="#111" stroke-width="0.9"/>
<circle cx="620.4" cy="542.59" r="2.7" fill="#000"/>
<line x1="646.5" y1="553.93" x2="646.5" y2="562.03" stroke="#111" stroke-width="0.9"/>
<line x1="643.8" y1="553.5" x2="648.8" y2="553.5" stroke="#111" stroke-width="0.9"/>
<line x1="643.8" y1="562.5" x2="648.8" y2="562.5" stroke="#111" stroke-width="0.9"/>
<circle cx="646.3" cy="557.98" r="2.7" fill="#000"/>
<line x1="671.5" y1="568.51" x2="671.5" y2="570.13" stroke="#111" stroke-width="0.9"/>
<line x1="669.2" y1="568.5" x2="674.2" y2="568.5" stroke="#111" stroke-width="0.9"/>
<line x1="669.2" y1="570.5" x2="674.2" y2="570.5" stroke="#111" stroke-width="0.9"/>
<circle cx="671.7" cy="569.32" r="2.7" fill="#000"/>
<line x1="339.1" y1="627.5" x2="357.2" y2="627.5" stroke="#9d4ff0" stroke-width="1.1"/>
<circle cx="348" cy="627.3" r="2.3" fill="#000"/>
<text x="366.8" y="629.9" font-size="8.7">vehicle (DMSO)</text>
<line x1="433.7" y1="627.5" x2="452" y2="627.5" stroke="#2350ff" stroke-width="1.1"/>
<rect x="440.7" y="625.4" width="4.4" height="4.4" fill="#000"/>
<text x="462.2" y="629.9" font-size="8.7">0.01 &#956;M talazoparib</text>
<line x1="541.9" y1="627.5" x2="560.3" y2="627.5" stroke="#ff3a14" stroke-width="1.1"/>
<path d="M550.5 625.01L552.9 629.33L548.1 629.33Z" fill="#000"/>
<text x="569.5" y="629.9" font-size="8.7">0.1 &#956;M talazoparib</text>
<text x="2.1" y="661" font-size="14.5">G.</text>
<line x1="45.5" y1="682.2" x2="45.5" y2="765.7" stroke="#111" stroke-width="1"/>
<text x="43.8" y="768.07" font-size="8.7" text-anchor="end">0</text>
<text x="43.8" y="747.45" font-size="8.7" text-anchor="end">25</text>
<text x="43.8" y="726.82" font-size="8.7" text-anchor="end">50</text>
<text x="43.8" y="706.2" font-size="8.7" text-anchor="end">75</text>
<text x="43.8" y="685.57" font-size="8.7" text-anchor="end">100</text>
<line x1="45.3" y1="765.5" x2="169.8" y2="765.5" stroke="#111" stroke-width="1"/>
<line x1="59.5" y1="765.2" x2="59.5" y2="770.2" stroke="#111" stroke-width="1"/>
<line x1="91.5" y1="765.2" x2="91.5" y2="770.2" stroke="#111" stroke-width="1"/>
<line x1="123.5" y1="765.2" x2="123.5" y2="770.2" stroke="#111" stroke-width="1"/>
<line x1="155.5" y1="765.2" x2="155.5" y2="770.2" stroke="#111" stroke-width="1"/>
<text x="46.8" y="669.5" font-size="8.7">Hela WT</text>
<rect x="49.5" y="683.5" width="4" height="81.7" fill="#9634fd" stroke="#111" stroke-width="1"/>
<rect x="57.5" y="688.5" width="4" height="76.7" fill="#0634ff" stroke="#111" stroke-width="1"/>
<rect x="65.5" y="691.5" width="5" height="73.7" fill="#ff2800" stroke="#111" stroke-width="1"/>
<rect x="80.5" y="685.5" width="5" height="79.7" fill="#9634fd" stroke="#111" stroke-width="1"/>
<rect x="89.5" y="714.5" width="4" height="50.7" fill="#0634ff" stroke="#111" stroke-width="1"/>
<rect x="97.5" y="727.5" width="5" height="37.7" fill="#ff2800" stroke="#111" stroke-width="1"/>
<rect x="112.5" y="690.5" width="5" height="74.7" fill="#9634fd" stroke="#111" stroke-width="1"/>
<rect x="121.5" y="730.5" width="4" height="34.7" fill="#0634ff" stroke="#111" stroke-width="1"/>
<rect x="129.5" y="738.5" width="5" height="26.7" fill="#ff2800" stroke="#111" stroke-width="1"/>
<rect x="144.5" y="696.5" width="5" height="68.7" fill="#9634fd" stroke="#111" stroke-width="1"/>
<rect x="152.5" y="736.5" width="5" height="28.7" fill="#0634ff" stroke="#111" stroke-width="1"/>
<rect x="161.5" y="747.5" width="5" height="17.7" fill="#ff2800" stroke="#111" stroke-width="1"/>
<circle cx="51.3" cy="682.7" r="2.6" fill="#000"/>
<circle cx="51.3" cy="682.7" r="2.6" fill="#000"/>
<circle cx="51.3" cy="682.7" r="2.6" fill="#000"/>
<line x1="59.5" y1="686" x2="59.5" y2="689.3" stroke="#111" stroke-width="1"/>
<line x1="57.6" y1="686.5" x2="61.6" y2="686.5" stroke="#111" stroke-width="1"/>
<rect x="57" y="683.4" width="5.2" height="5.2" fill="#000"/>
<rect x="57" y="686.7" width="5.2" height="5.2" fill="#000"/>
<rect x="57" y="685.05" width="5.2" height="5.2" fill="#000"/>
<line x1="68.5" y1="684.35" x2="68.5" y2="695.9" stroke="#111" stroke-width="1"/>
<line x1="66.2" y1="684.5" x2="70.2" y2="684.5" stroke="#111" stroke-width="1"/>
<path d="M68.2 687.16L70.8 682.48L65.6 682.48Z" fill="#000"/>
<path d="M68.2 698.71L70.8 694.03L65.6 694.03Z" fill="#000"/>
<line x1="83.5" y1="683.53" x2="83.5" y2="686" stroke="#111" stroke-width="1"/>
<line x1="81.1" y1="683.5" x2="85.1" y2="683.5" stroke="#111" stroke-width="1"/>
<circle cx="83.1" cy="683.53" r="2.6" fill="#000"/>
<circle cx="83.1" cy="686" r="2.6" fill="#000"/>
<circle cx="83.1" cy="684.76" r="2.6" fill="#000"/>
<line x1="91.5" y1="708.28" x2="91.5" y2="717.35" stroke="#111" stroke-width="1"/>
<line x1="89.4" y1="708.5" x2="93.4" y2="708.5" stroke="#111" stroke-width="1"/>
<rect x="88.8" y="705.68" width="5.2" height="5.2" fill="#000"/>
<rect x="88.8" y="714.75" width="5.2" height="5.2" fill="#000"/>
<line x1="100.5" y1="721.48" x2="100.5" y2="729.73" stroke="#111" stroke-width="1"/>
<line x1="98" y1="721.5" x2="102" y2="721.5" stroke="#111" stroke-width="1"/>
<path d="M100 724.28L102.6 719.6L97.4 719.6Z" fill="#000"/>
<path d="M100 732.53L102.6 727.85L97.4 727.85Z" fill="#000"/>
<line x1="115.5" y1="688.06" x2="115.5" y2="695.08" stroke="#111" stroke-width="1"/>
<line x1="113" y1="688.5" x2="117" y2="688.5" stroke="#111" stroke-width="1"/>
<circle cx="115" cy="688.06" r="2.6" fill="#000"/>
<circle cx="115" cy="695.08" r="2.6" fill="#000"/>
<circle cx="115" cy="691.57" r="2.6" fill="#000"/>
<line x1="123.5" y1="727.25" x2="123.5" y2="731.38" stroke="#111" stroke-width="1"/>
<line x1="121.3" y1="727.5" x2="125.3" y2="727.5" stroke="#111" stroke-width="1"/>
<rect x="120.7" y="724.65" width="5.2" height="5.2" fill="#000"/>
<rect x="120.7" y="728.77" width="5.2" height="5.2" fill="#000"/>
<rect x="120.7" y="726.71" width="5.2" height="5.2" fill="#000"/>
<line x1="131.5" y1="733.85" x2="131.5" y2="740.04" stroke="#111" stroke-width="1"/>
<line x1="129.9" y1="733.5" x2="133.9" y2="733.5" stroke="#111" stroke-width="1"/>
<path d="M131.9 736.66L134.5 731.98L129.3 731.98Z" fill="#000"/>
<path d="M131.9 742.85L134.5 738.17L129.3 738.17Z" fill="#000"/>
<path d="M131.9 739.75L134.5 735.07L129.3 735.07Z" fill="#000"/>
<line x1="146.5" y1="690.12" x2="146.5" y2="697.55" stroke="#111" stroke-width="1"/>
<line x1="144.9" y1="690.5" x2="148.9" y2="690.5" stroke="#111" stroke-width="1"/>
<circle cx="146.9" cy="690.12" r="2.6" fill="#000"/>
<circle cx="146.9" cy="697.55" r="2.6" fill="#000"/>
<circle cx="146.9" cy="693.84" r="2.6" fill="#000"/>
<line x1="155.5" y1="731.38" x2="155.5" y2="737.98" stroke="#111" stroke-width="1"/>
<line x1="153.2" y1="731.5" x2="157.2" y2="731.5" stroke="#111" stroke-width="1"/>
<rect x="152.6" y="728.77" width="5.2" height="5.2" fill="#000"/>
<rect x="152.6" y="735.38" width="5.2" height="5.2" fill="#000"/>
<rect x="152.6" y="732.08" width="5.2" height="5.2" fill="#000"/>
<line x1="163.5" y1="745.4" x2="163.5" y2="747.88" stroke="#111" stroke-width="1"/>
<line x1="161.8" y1="745.5" x2="165.8" y2="745.5" stroke="#111" stroke-width="1"/>
<path d="M163.8 748.21L166.4 743.53L161.2 743.53Z" fill="#000"/>
<path d="M163.8 750.68L166.4 746L161.2 746Z" fill="#000"/>
<path d="M163.8 749.45L166.4 744.77L161.2 744.77Z" fill="#000"/>
<text x="59.4" y="782.2" font-size="8.7" text-anchor="middle">0.00</text>
<text x="91.4" y="782.2" font-size="8.7" text-anchor="middle">0.01</text>
<text x="121.4" y="782.2" font-size="8.7" text-anchor="middle">0.1</text>
<text x="155" y="782.2" font-size="8.7" text-anchor="middle">1</text>
<text x="82" y="797.5" font-size="8.7">MOI of RT3D</text>
<text x="18.8" y="718.6" font-size="8.7" text-anchor="middle" transform="rotate(-90 18.8 718.6)">% of cell survival</text>
<line x1="81.9" y1="677.5" x2="109.5" y2="677.5" stroke="#111" stroke-width="1"/>
<text x="95.7" y="679" font-size="9" text-anchor="middle">****</text>
<line x1="112.6" y1="680.5" x2="140.1" y2="680.5" stroke="#111" stroke-width="1"/>
<text x="126.35" y="681.4" font-size="9" text-anchor="middle">****</text>
<line x1="147.3" y1="684.5" x2="174.9" y2="684.5" stroke="#111" stroke-width="1"/>
<text x="161.1" y="685.9" font-size="9" text-anchor="middle">****</text>
<line x1="223.5" y1="681.8" x2="223.5" y2="765.2" stroke="#111" stroke-width="1"/>
<text x="221.8" y="767.57" font-size="8.7" text-anchor="end">0</text>
<text x="221.8" y="746.97" font-size="8.7" text-anchor="end">25</text>
<text x="221.8" y="726.37" font-size="8.7" text-anchor="end">50</text>
<text x="221.8" y="705.77" font-size="8.7" text-anchor="end">75</text>
<text x="221.8" y="685.17" font-size="8.7" text-anchor="end">100</text>
<line x1="223.3" y1="764.5" x2="346.3" y2="764.5" stroke="#111" stroke-width="1"/>
<line x1="237.5" y1="764.7" x2="237.5" y2="769.7" stroke="#111" stroke-width="1"/>
<line x1="269.5" y1="764.7" x2="269.5" y2="769.7" stroke="#111" stroke-width="1"/>
<line x1="301.5" y1="764.7" x2="301.5" y2="769.7" stroke="#111" stroke-width="1"/>
<line x1="332.5" y1="764.7" x2="332.5" y2="769.7" stroke="#111" stroke-width="1"/>
<text x="224.5" y="669.5" font-size="8.7">Hela A7</text>
<rect x="227.5" y="682.5" width="4" height="82.2" fill="#9634fd" stroke="#111" stroke-width="1"/>
<rect x="235.5" y="686.5" width="5" height="78.2" fill="#0634ff" stroke="#111" stroke-width="1"/>
<rect x="244.5" y="687.5" width="4" height="77.2" fill="#ff2800" stroke="#111" stroke-width="1"/>
<rect x="258.5" y="711.5" width="5" height="53.2" fill="#9634fd" stroke="#111" stroke-width="1"/>
<rect x="267.5" y="715.5" width="4" height="49.2" fill="#0634ff" stroke="#111" stroke-width="1"/>
<rect x="275.5" y="712.5" width="5" height="52.2" fill="#ff2800" stroke="#111" stroke-width="1"/>
<rect x="290.5" y="731.5" width="5" height="33.2" fill="#9634fd" stroke="#111" stroke-width="1"/>
<rect x="298.5" y="735.5" width="5" height="29.2" fill="#0634ff" stroke="#111" stroke-width="1"/>
<rect x="307.5" y="732.5" width="4" height="32.2" fill="#ff2800" stroke="#111" stroke-width="1"/>
<rect x="322.5" y="755.5" width="4" height="9.2" fill="#9634fd" stroke="#111" stroke-width="1"/>
<rect x="330.5" y="757.5" width="5" height="7.2" fill="#0634ff" stroke="#111" stroke-width="1"/>
<rect x="339.5" y="754.5" width="4" height="10.2" fill="#ff2800" stroke="#111" stroke-width="1"/>
<circle cx="229.6" cy="682.3" r="2.6" fill="#000"/>
<circle cx="229.6" cy="682.3" r="2.6" fill="#000"/>
<circle cx="229.6" cy="682.3" r="2.6" fill="#000"/>
<line x1="237.5" y1="684.77" x2="237.5" y2="686.42" stroke="#111" stroke-width="1"/>
<line x1="235.9" y1="684.5" x2="239.9" y2="684.5" stroke="#111" stroke-width="1"/>
<rect x="235.3" y="682.17" width="5.2" height="5.2" fill="#000"/>
<rect x="235.3" y="683.82" width="5.2" height="5.2" fill="#000"/>
<rect x="235.3" y="683" width="5.2" height="5.2" fill="#000"/>
<line x1="246.5" y1="685.6" x2="246.5" y2="688.07" stroke="#111" stroke-width="1"/>
<line x1="244.5" y1="685.5" x2="248.5" y2="685.5" stroke="#111" stroke-width="1"/>
<path d="M246.5 688.4L249.1 683.72L243.9 683.72Z" fill="#000"/>
<path d="M246.5 690.88L249.1 686.2L243.9 686.2Z" fill="#000"/>
<path d="M246.5 689.64L249.1 684.96L243.9 684.96Z" fill="#000"/>
<line x1="261.5" y1="707.02" x2="261.5" y2="711.96" stroke="#111" stroke-width="1"/>
<line x1="259.2" y1="707.5" x2="263.2" y2="707.5" stroke="#111" stroke-width="1"/>
<circle cx="261.2" cy="707.02" r="2.6" fill="#000"/>
<circle cx="261.2" cy="711.96" r="2.6" fill="#000"/>
<circle cx="261.2" cy="709.49" r="2.6" fill="#000"/>
<line x1="269.5" y1="706.2" x2="269.5" y2="712.79" stroke="#111" stroke-width="1"/>
<line x1="267.5" y1="706.5" x2="271.5" y2="706.5" stroke="#111" stroke-width="1"/>
<rect x="266.9" y="703.6" width="5.2" height="5.2" fill="#000"/>
<rect x="266.9" y="710.19" width="5.2" height="5.2" fill="#000"/>
<rect x="266.9" y="706.89" width="5.2" height="5.2" fill="#000"/>
<line x1="278.5" y1="708.67" x2="278.5" y2="714.02" stroke="#111" stroke-width="1"/>
<line x1="276.1" y1="708.5" x2="280.1" y2="708.5" stroke="#111" stroke-width="1"/>
<path d="M278.1 711.48L280.7 706.8L275.5 706.8Z" fill="#000"/>
<path d="M278.1 716.83L280.7 712.15L275.5 712.15Z" fill="#000"/>
<path d="M278.1 714.15L280.7 709.47L275.5 709.47Z" fill="#000"/>
<line x1="292.5" y1="725.15" x2="292.5" y2="731.74" stroke="#111" stroke-width="1"/>
<line x1="290.7" y1="725.5" x2="294.7" y2="725.5" stroke="#111" stroke-width="1"/>
<circle cx="292.7" cy="725.15" r="2.6" fill="#000"/>
<circle cx="292.7" cy="731.74" r="2.6" fill="#000"/>
<circle cx="292.7" cy="728.44" r="2.6" fill="#000"/>
<line x1="301.5" y1="725.56" x2="301.5" y2="731.74" stroke="#111" stroke-width="1"/>
<line x1="299" y1="725.5" x2="303" y2="725.5" stroke="#111" stroke-width="1"/>
<rect x="298.4" y="722.96" width="5.2" height="5.2" fill="#000"/>
<rect x="298.4" y="729.14" width="5.2" height="5.2" fill="#000"/>
<rect x="298.4" y="726.05" width="5.2" height="5.2" fill="#000"/>
<line x1="309.5" y1="729.27" x2="309.5" y2="734.21" stroke="#111" stroke-width="1"/>
<line x1="307.6" y1="729.5" x2="311.6" y2="729.5" stroke="#111" stroke-width="1"/>
<path d="M309.6 732.08L312.2 727.4L307 727.4Z" fill="#000"/>
<path d="M309.6 737.02L312.2 732.34L307 732.34Z" fill="#000"/>
<path d="M309.6 734.55L312.2 729.87L307 729.87Z" fill="#000"/>
<line x1="324.5" y1="751.93" x2="324.5" y2="755.97" stroke="#111" stroke-width="1"/>
<line x1="322.5" y1="751.5" x2="326.5" y2="751.5" stroke="#111" stroke-width="1"/>
<circle cx="324.5" cy="751.93" r="2.6" fill="#000"/>
<circle cx="324.5" cy="755.97" r="2.6" fill="#000"/>
<circle cx="324.5" cy="753.95" r="2.6" fill="#000"/>
<line x1="332.5" y1="752.34" x2="332.5" y2="756.46" stroke="#111" stroke-width="1"/>
<line x1="330.8" y1="752.5" x2="334.8" y2="752.5" stroke="#111" stroke-width="1"/>
<rect x="330.2" y="749.74" width="5.2" height="5.2" fill="#000"/>
<rect x="330.2" y="753.86" width="5.2" height="5.2" fill="#000"/>
<rect x="330.2" y="751.8" width="5.2" height="5.2" fill="#000"/>
<line x1="341.5" y1="748.55" x2="341.5" y2="755.97" stroke="#111" stroke-width="1"/>
<line x1="339.4" y1="748.5" x2="343.4" y2="748.5" stroke="#111" stroke-width="1"/>
<path d="M341.4 751.36L344 746.68L338.8 746.68Z" fill="#000"/>
<path d="M341.4 758.77L344 754.09L338.8 754.09Z" fill="#000"/>
<path d="M341.4 755.07L344 750.39L338.8 750.39Z" fill="#000"/>
<text x="237.5" y="782.2" font-size="8.7" text-anchor="middle">0.00</text>
<text x="269.1" y="782.2" font-size="8.7" text-anchor="middle">0.01</text>
<text x="300.2" y="782.2" font-size="8.7" text-anchor="middle">0.1</text>
<text x="332.5" y="782.2" font-size="8.7" text-anchor="middle">1</text>
<text x="259.9" y="795.2" font-size="8.7">MOI of RT3D</text>
<text x="197.6" y="718.6" font-size="8.7" text-anchor="middle" transform="rotate(-90 197.6 718.6)">% of cell survival</text>
<line x1="404.5" y1="681.9" x2="404.5" y2="765" stroke="#111" stroke-width="1"/>
<text x="403.3" y="767.37" font-size="8.7" text-anchor="end">0</text>
<text x="403.3" y="746.85" font-size="8.7" text-anchor="end">25</text>
<text x="403.3" y="726.32" font-size="8.7" text-anchor="end">50</text>
<text x="403.3" y="705.8" font-size="8.7" text-anchor="end">75</text>
<text x="403.3" y="685.27" font-size="8.7" text-anchor="end">100</text>
<line x1="404.8" y1="764.5" x2="528.4" y2="764.5" stroke="#111" stroke-width="1"/>
<line x1="419.5" y1="764.5" x2="419.5" y2="769.5" stroke="#111" stroke-width="1"/>
<line x1="451.5" y1="764.5" x2="451.5" y2="769.5" stroke="#111" stroke-width="1"/>
<line x1="482.5" y1="764.5" x2="482.5" y2="769.5" stroke="#111" stroke-width="1"/>
<line x1="514.5" y1="764.5" x2="514.5" y2="769.5" stroke="#111" stroke-width="1"/>
<text x="403.6" y="669.5" font-size="8.7">Hela F7</text>
<rect x="408.5" y="682.5" width="5" height="82" fill="#9634fd" stroke="#111" stroke-width="1"/>
<rect x="416.5" y="688.5" width="5" height="76" fill="#0634ff" stroke="#111" stroke-width="1"/>
<rect x="425.5" y="690.5" width="5" height="74" fill="#ff2800" stroke="#111" stroke-width="1"/>
<rect x="440.5" y="705.5" width="5" height="59" fill="#9634fd" stroke="#111" stroke-width="1"/>
<rect x="448.5" y="707.5" width="5" height="57" fill="#0634ff" stroke="#111" stroke-width="1"/>
<rect x="457.5" y="704.5" width="4" height="60" fill="#ff2800" stroke="#111" stroke-width="1"/>
<rect x="472.5" y="730.5" width="4" height="34" fill="#9634fd" stroke="#111" stroke-width="1"/>
<rect x="480.5" y="732.5" width="5" height="32" fill="#0634ff" stroke="#111" stroke-width="1"/>
<rect x="489.5" y="727.5" width="4" height="37" fill="#ff2800" stroke="#111" stroke-width="1"/>
<rect x="504.5" y="748.5" width="4" height="16" fill="#9634fd" stroke="#111" stroke-width="1"/>
<rect x="512.5" y="749.5" width="5" height="15" fill="#0634ff" stroke="#111" stroke-width="1"/>
<rect x="521.5" y="747.5" width="4" height="17" fill="#ff2800" stroke="#111" stroke-width="1"/>
<circle cx="410.9" cy="682.4" r="2.6" fill="#000"/>
<circle cx="410.9" cy="682.4" r="2.6" fill="#000"/>
<circle cx="410.9" cy="682.4" r="2.6" fill="#000"/>
<line x1="419.5" y1="683.39" x2="419.5" y2="687.65" stroke="#111" stroke-width="1"/>
<line x1="417.2" y1="683.5" x2="421.2" y2="683.5" stroke="#111" stroke-width="1"/>
<rect x="416.6" y="680.79" width="5.2" height="5.2" fill="#000"/>
<rect x="416.6" y="685.05" width="5.2" height="5.2" fill="#000"/>
<rect x="416.6" y="682.92" width="5.2" height="5.2" fill="#000"/>
<line x1="427.5" y1="685.68" x2="427.5" y2="691.1" stroke="#111" stroke-width="1"/>
<line x1="425.8" y1="685.5" x2="429.8" y2="685.5" stroke="#111" stroke-width="1"/>
<path d="M427.8 688.49L430.4 683.81L425.2 683.81Z" fill="#000"/>
<path d="M427.8 693.91L430.4 689.23L425.2 689.23Z" fill="#000"/>
<path d="M427.8 691.2L430.4 686.52L425.2 686.52Z" fill="#000"/>
<line x1="442.5" y1="698.82" x2="442.5" y2="703.09" stroke="#111" stroke-width="1"/>
<line x1="440.7" y1="698.5" x2="444.7" y2="698.5" stroke="#111" stroke-width="1"/>
<circle cx="442.7" cy="698.82" r="2.6" fill="#000"/>
<circle cx="442.7" cy="703.09" r="2.6" fill="#000"/>
<circle cx="442.7" cy="700.95" r="2.6" fill="#000"/>
<line x1="451.5" y1="698.82" x2="451.5" y2="705.39" stroke="#111" stroke-width="1"/>
<line x1="449" y1="698.5" x2="453" y2="698.5" stroke="#111" stroke-width="1"/>
<rect x="448.4" y="696.22" width="5.2" height="5.2" fill="#000"/>
<rect x="448.4" y="702.79" width="5.2" height="5.2" fill="#000"/>
<rect x="448.4" y="699.5" width="5.2" height="5.2" fill="#000"/>
<line x1="459.5" y1="702.1" x2="459.5" y2="703.75" stroke="#111" stroke-width="1"/>
<line x1="457.6" y1="702.5" x2="461.6" y2="702.5" stroke="#111" stroke-width="1"/>
<path d="M459.6 704.91L462.2 700.23L457 700.23Z" fill="#000"/>
<path d="M459.6 706.55L462.2 701.87L457 701.87Z" fill="#000"/>
<path d="M459.6 705.73L462.2 701.05L457 701.05Z" fill="#000"/>
<line x1="474.5" y1="724.68" x2="474.5" y2="729.2" stroke="#111" stroke-width="1"/>
<line x1="472.4" y1="724.5" x2="476.4" y2="724.5" stroke="#111" stroke-width="1"/>
<circle cx="474.4" cy="724.68" r="2.6" fill="#000"/>
<circle cx="474.4" cy="729.2" r="2.6" fill="#000"/>
<circle cx="474.4" cy="726.94" r="2.6" fill="#000"/>
<line x1="482.5" y1="725.5" x2="482.5" y2="730.43" stroke="#111" stroke-width="1"/>
<line x1="480.7" y1="725.5" x2="484.7" y2="725.5" stroke="#111" stroke-width="1"/>
<rect x="480.1" y="722.9" width="5.2" height="5.2" fill="#000"/>
<rect x="480.1" y="727.83" width="5.2" height="5.2" fill="#000"/>
<rect x="480.1" y="725.37" width="5.2" height="5.2" fill="#000"/>
<line x1="491.5" y1="720.17" x2="491.5" y2="729.2" stroke="#111" stroke-width="1"/>
<line x1="489.3" y1="720.5" x2="493.3" y2="720.5" stroke="#111" stroke-width="1"/>
<path d="M491.3 722.97L493.9 718.29L488.7 718.29Z" fill="#000"/>
<path d="M491.3 732L493.9 727.33L488.7 727.33Z" fill="#000"/>
<line x1="506.5" y1="743.98" x2="506.5" y2="747.26" stroke="#111" stroke-width="1"/>
<line x1="504.4" y1="743.5" x2="508.4" y2="743.5" stroke="#111" stroke-width="1"/>
<circle cx="506.4" cy="743.98" r="2.6" fill="#000"/>
<circle cx="506.4" cy="747.26" r="2.6" fill="#000"/>
<circle cx="506.4" cy="745.62" r="2.6" fill="#000"/>
<line x1="514.5" y1="743.15" x2="514.5" y2="748.08" stroke="#111" stroke-width="1"/>
<line x1="512.7" y1="743.5" x2="516.7" y2="743.5" stroke="#111" stroke-width="1"/>
<rect x="512.1" y="740.55" width="5.2" height="5.2" fill="#000"/>
<rect x="512.1" y="745.48" width="5.2" height="5.2" fill="#000"/>
<rect x="512.1" y="743.02" width="5.2" height="5.2" fill="#000"/>
<line x1="523.5" y1="743.98" x2="523.5" y2="747.26" stroke="#111" stroke-width="1"/>
<line x1="521.3" y1="743.5" x2="525.3" y2="743.5" stroke="#111" stroke-width="1"/>
<path d="M523.3 746.78L525.9 742.1L520.7 742.1Z" fill="#000"/>
<path d="M523.3 750.07L525.9 745.39L520.7 745.39Z" fill="#000"/>
<path d="M523.3 748.42L525.9 743.75L520.7 743.75Z" fill="#000"/>
<text x="418.7" y="782.2" font-size="8.7" text-anchor="middle">0.00</text>
<text x="449.9" y="782.2" font-size="8.7" text-anchor="middle">0.01</text>
<text x="481.1" y="782.2" font-size="8.7" text-anchor="middle">0.1</text>
<text x="513.1" y="782.2" font-size="8.7" text-anchor="middle">1</text>
<text x="440.8" y="794.7" font-size="8.7">MOI of RT3D</text>
<text x="378.6" y="718.6" font-size="8.7" text-anchor="middle" transform="rotate(-90 378.6 718.6)">% of cell survival</text>
<circle cx="144.5" cy="811.2" r="2.4" fill="#000"/>
<text x="163.9" y="814.5" font-size="8.7">vehicle (DMSO)</text>
<rect x="232.9" y="809" width="4.4" height="4.4" fill="#000"/>
<text x="253.3" y="814.5" font-size="8.7">0.01 &#956;M talazoparib</text>
<path d="M341.2 814.01L343.8 809.33L338.6 809.33Z" fill="#000"/>
<text x="359.9" y="814.5" font-size="8.7">0.1 &#956;M talazoparib</text>
</svg>
</body></html>
